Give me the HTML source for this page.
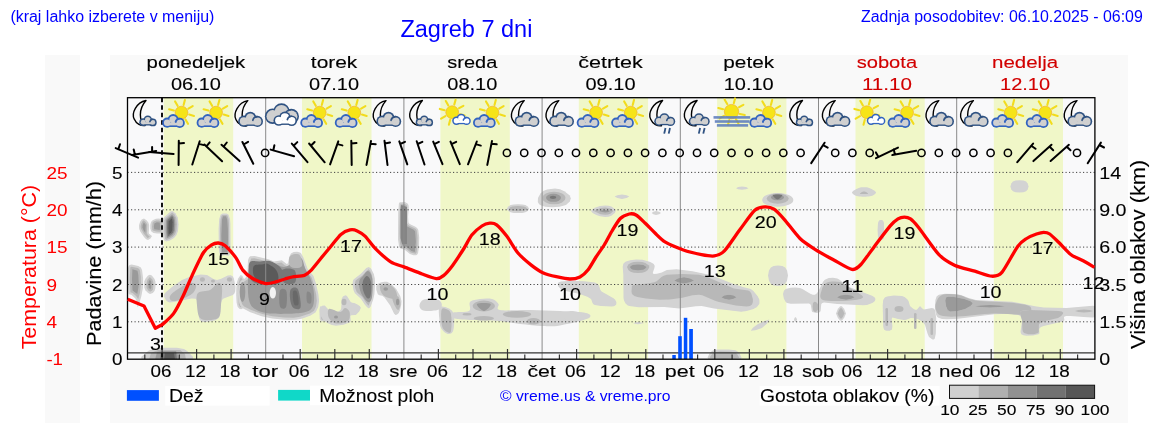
<!DOCTYPE html><html><head><meta charset="utf-8"><style>html,body{margin:0;padding:0;width:1152px;height:443px;overflow:hidden;background:#fff}#w{position:absolute;left:0;top:0;width:1152px;height:443px;will-change:transform}</style></head><body><div id="w"><svg width="1152" height="443" viewBox="0 0 1152 443" style="position:absolute;left:0;top:0" font-family='"Liberation Sans", sans-serif'>
<defs><filter id="bl" x="-20%" y="-20%" width="140%" height="140%"><feGaussianBlur stdDeviation="0.3"/></filter><clipPath id="pc"><rect x="127.5" y="97.7" width="967.4" height="261.5"/></clipPath></defs>
<rect width="1152" height="443" fill="#fff"/>
<rect x="45" y="55" width="35" height="368" fill="#f9f9f9"/>
<rect x="110" y="55" width="1018" height="368" fill="#f9f9f9"/>
<rect x="127.5" y="97.7" width="967.4" height="261.5" fill="#f9f9fa"/>
<rect x="163.7" y="97.7" width="69.5" height="261.5" fill="#f0f7c8"/>
<rect x="302.0" y="97.7" width="69.5" height="261.5" fill="#f0f7c8"/>
<rect x="440.4" y="97.7" width="69.4" height="261.5" fill="#f0f7c8"/>
<rect x="578.8" y="97.7" width="69.3" height="261.5" fill="#f0f7c8"/>
<rect x="717.1" y="97.7" width="69.3" height="261.5" fill="#f0f7c8"/>
<rect x="855.5" y="97.7" width="69.2" height="261.5" fill="#f0f7c8"/>
<rect x="993.8" y="97.7" width="69.2" height="261.5" fill="#f0f7c8"/>
<g filter="url(#bl)" clip-path="url(#pc)"><path d="M144.0,218.5 L141.7,219.5 L140.0,222.0 L139.0,225.2 L139.2,229.0 L140.4,231.8 L144.0,237.0 L146.1,239.2 L148.0,240.0 L150.5,238.4 L152.0,236.0 L149.1,233.8 L148.7,233.0 L149.2,225.4 L148.5,222.8 L146.8,220.5 L144.0,218.5Z" fill="#d3d3d3"/><path d="M143.7,220.3 L142.5,221.3 L141.3,223.6 L140.7,226.5 L140.9,228.5 L143.7,233.6 L147.7,238.2 L149.8,236.4 L147.8,235.1 L146.9,233.3 L147.3,224.5 L145.5,221.7 L143.7,220.3Z" fill="#b8b8b8"/><path d="M143.8,222.3 L142.6,224.9 L142.4,227.4 L143.4,230.1 L145.3,233.1 L145.8,225.6 L145.5,224.4 L143.8,222.3Z" fill="#9a9a9a"/><path d="M151.0,222.0 L150.3,224.8 L150.3,228.3 L151.0,231.0 L151.7,231.8 L153.6,232.9 L157.0,233.5 L160.4,233.6 L162.3,232.8 L163.4,230.6 L163.8,226.6 L163.4,222.5 L162.3,220.0 L159.2,218.6 L155.9,218.7 L152.6,220.2 L151.0,222.0Z" fill="#d3d3d3"/><path d="M152.6,222.8 L152.1,226.6 L152.3,229.4 L152.9,230.5 L156.2,231.6 L159.2,231.8 L161.1,231.5 L161.7,230.2 L161.9,226.6 L161.6,222.8 L161.0,221.3 L158.9,220.4 L156.3,220.4 L153.7,221.6 L152.6,222.8Z" fill="#b8b8b8"/><path d="M154.2,229.2 L159.8,230.0 L160.1,226.6 L159.7,222.5 L156.7,222.2 L154.4,223.4 L153.9,226.6 L154.2,229.2Z" fill="#9a9a9a"/><path d="M172.4,211.0 L170.5,211.5 L164.7,216.8 L163.4,218.5 L163.0,220.0 L162.6,228.0 L163.0,236.0 L164.0,240.0 L166.0,241.5 L169.9,240.5 L174.0,238.0 L176.5,235.1 L178.0,231.0 L178.5,224.3 L177.8,217.6 L175.4,213.2 L172.4,211.0Z" fill="#d3d3d3"/><path d="M172.1,212.6 L165.7,217.9 L164.6,220.3 L164.2,225.0 L164.4,233.7 L165.1,238.5 L166.2,239.9 L169.3,239.1 L173.0,236.8 L175.1,234.3 L176.4,230.7 L176.9,224.3 L176.3,218.0 L174.2,214.3 L172.1,212.6Z" fill="#b8b8b8"/><path d="M166.8,238.3 L169.9,237.0 L172.6,234.9 L174.2,232.6 L174.9,230.4 L175.3,224.3 L175.0,220.0 L174.3,217.3 L172.1,214.4 L166.8,219.1 L166.1,220.6 L165.8,230.9 L166.8,238.3Z" fill="#9a9a9a"/><path d="M167.6,236.7 L171.8,234.0 L173.1,232.2 L173.7,230.2 L174.1,224.3 L173.8,220.2 L173.2,217.8 L172.1,216.1 L167.6,220.0 L167.3,220.9 L167.0,227.9 L167.6,236.7Z" fill="#777777"/><path d="M168.7,234.6 L171.2,232.6 L172.3,229.9 L172.6,222.2 L171.9,218.3 L168.7,221.2 L168.4,227.9 L168.7,234.6Z" fill="#5a5a5a"/><path d="M226.6,213.5 L222.6,213.5 L220.6,214.7 L219.2,219.0 L218.6,229.1 L218.8,247.9 L219.2,252.0 L219.8,254.3 L220.7,255.4 L221.8,255.8 L225.0,255.0 L228.0,255.8 L229.0,255.4 L229.7,254.3 L230.6,247.9 L230.4,223.3 L230.0,219.0 L228.6,214.7 L226.6,213.5Z" fill="#d3d3d3"/><path d="M226.3,214.9 L222.9,214.9 L221.7,215.6 L220.6,219.2 L220.0,229.1 L220.2,247.8 L220.6,251.7 L221.5,254.2 L225.0,253.6 L227.9,254.3 L228.9,251.8 L229.2,247.8 L229.0,223.4 L228.6,219.2 L227.4,215.6 L226.3,214.9Z" fill="#b8b8b8"/><path d="M222.3,252.8 L225.0,252.2 L227.3,252.7 L227.5,251.6 L228.0,242.2 L227.9,229.2 L227.2,219.4 L226.1,216.3 L223.0,216.3 L222.0,219.4 L221.3,235.7 L221.6,247.7 L222.3,252.8Z" fill="#9a9a9a"/><path d="M128.2,267.1 L127.7,270.1 L127.5,279.3 L128.5,293.3 L128.9,294.2 L131.3,294.8 L135.4,298.5 L136.4,300.8 L137.6,307.4 L138.7,305.3 L141.3,296.6 L142.9,288.1 L143.1,278.6 L142.1,270.2 L140.9,267.6 L138.2,265.9 L131.8,264.6 L130.3,264.7 L129.1,265.5 L128.2,267.1Z" fill="#d3d3d3"/><path d="M130.3,267.8 L129.7,279.2 L130.5,292.2 L132.6,293.0 L136.1,296.0 L138.2,299.2 L139.9,292.9 L141.0,284.3 L140.8,276.5 L140.0,270.8 L139.2,269.0 L137.6,268.0 L131.7,266.8 L130.7,267.0 L130.3,267.8Z" fill="#b8b8b8"/><path d="M132.6,290.4 L137.3,294.0 L138.4,287.6 L138.7,282.5 L138.3,274.7 L137.5,270.7 L132.4,269.3 L132.0,279.2 L132.6,290.4Z" fill="#9a9a9a"/><path d="M149.9,274.8 L148.0,275.6 L145.4,278.8 L144.4,281.3 L144.2,284.5 L144.4,287.7 L145.4,290.2 L148.1,293.1 L150.0,294.0 L152.8,292.9 L154.5,291.1 L155.3,288.6 L155.6,285.1 L155.4,281.5 L154.4,278.7 L151.8,275.6 L149.9,274.8Z" fill="#d3d3d3"/><path d="M149.9,277.1 L147.3,279.9 L146.4,284.5 L146.6,287.2 L147.3,289.1 L148.6,290.7 L150.2,291.8 L152.1,290.6 L152.9,289.2 L153.4,285.1 L153.2,281.9 L152.5,279.8 L149.9,277.1Z" fill="#b8b8b8"/><path d="M149.9,279.6 L148.8,281.4 L148.4,284.5 L148.7,287.5 L150.3,289.5 L151.2,287.8 L151.4,283.5 L151.0,281.3 L149.9,279.6Z" fill="#9a9a9a"/><path d="M166.0,292.0 L164.2,294.3 L164.2,296.7 L166.1,300.5 L168.2,302.1 L169.7,302.5 L174.0,302.1 L191.6,298.6 L195.5,298.8 L197.0,300.0 L197.9,302.3 L198.9,317.1 L199.6,319.6 L200.8,321.0 L202.4,321.8 L205.9,322.0 L214.9,320.4 L218.2,318.5 L219.4,317.0 L220.1,314.8 L220.7,305.4 L221.1,302.4 L222.0,300.0 L223.6,298.4 L232.9,294.9 L234.4,293.5 L235.2,291.6 L235.5,286.7 L233.9,278.6 L232.7,276.3 L230.7,275.2 L227.7,275.4 L221.2,278.7 L217.0,280.0 L213.5,278.9 L207.0,275.0 L200.7,274.4 L189.9,276.8 L182.0,280.0 L173.2,286.0 L166.0,292.0Z" fill="#d3d3d3"/><path d="M170.0,296.0 C171.0,294.0 174.7,291.2 178.0,289.0 C181.3,286.8 187.0,283.7 190.0,283.0 C193.0,282.3 195.5,283.3 196.0,285.0 C196.5,286.7 195.3,290.7 193.0,293.0 C190.7,295.3 185.5,297.7 182.0,299.0 C178.5,300.3 174.0,301.5 172.0,301.0 C170.0,300.5 169.0,298.0 170.0,296.0Z" fill="#b8b8b8"/><path d="M198.0,293.0 C200.2,290.5 206.7,291.7 210.0,290.0 C213.3,288.3 216.0,283.5 218.0,283.0 C220.0,282.5 221.5,283.3 222.0,287.0 C222.5,290.7 221.5,300.0 221.0,305.0 C220.5,310.0 220.8,314.5 219.0,317.0 C217.2,319.5 213.2,319.8 210.0,320.0 C206.8,320.2 202.2,320.5 200.0,318.0 C197.8,315.5 197.3,309.2 197.0,305.0 C196.7,300.8 195.8,295.5 198.0,293.0Z" fill="#b8b8b8"/><ellipse cx="202.4" cy="279.5" rx="2.6" ry="2.2" fill="#b8b8b8"/><ellipse cx="229.5" cy="279.5" rx="2.6" ry="2.2" fill="#b8b8b8"/><ellipse cx="213.0" cy="281.0" rx="2.0" ry="1.5" fill="#b8b8b8"/><path d="M240.7,275.0 L238.3,278.3 L236.9,282.6 L236.3,287.9 L236.2,295.4 L236.6,302.5 L237.6,306.7 L239.3,308.8 L241.2,309.3 L242.7,308.4 L244.7,304.1 L245.5,300.0 L245.7,290.9 L245.3,284.5 L244.5,280.0 L242.3,275.7 L240.7,275.0Z" fill="#d3d3d3"/><path d="M241.1,277.1 L239.9,279.0 L238.7,283.0 L238.0,291.5 L238.8,304.6 L239.8,306.8 L241.0,307.5 L242.4,305.2 L243.4,301.8 L244.0,294.2 L243.2,282.3 L242.2,279.0 L241.1,277.1Z" fill="#b8b8b8"/><path d="M241.1,281.1 L240.1,285.5 L239.8,291.6 L239.9,298.9 L240.7,304.7 L241.9,299.6 L242.2,294.2 L241.8,284.9 L241.1,281.1Z" fill="#9a9a9a"/><path d="M144.0,360.0 L157.5,360.9 L184.5,360.6 L190.0,360.0 L192.5,359.1 L193.1,357.8 L192.4,356.2 L187.2,351.1 L184.0,348.9 L176.9,347.7 L160.3,347.7 L152.4,348.9 L148.1,351.1 L142.0,356.2 L141.1,357.8 L141.6,359.1 L144.0,360.0Z" fill="#d3d3d3"/><path d="M149,360 L151,353 L158,350 L180,350 L185,354 L186,360Z" fill="#b8b8b8"/><path d="M155,360 L157,352 L162,351 L176,351 L178,355 L179,360Z" fill="#9a9a9a"/><path d="M160,360 L161,352 L176,352 L177,360Z" fill="#777777"/><path d="M164,360 L165,353 L174,353 L175,360Z" fill="#5a5a5a"/><path d="M248.0,260.3 L247.4,273.9 L246.9,276.1 L244.9,278.6 L241.1,280.6 L240.2,281.7 L238.9,284.6 L238.2,288.1 L237.9,294.0 L238.7,301.3 L240.2,305.4 L242.7,308.2 L250.3,312.2 L261.7,316.2 L272.0,318.4 L287.6,320.0 L296.2,319.8 L302.5,318.4 L310.7,315.6 L315.7,312.2 L318.2,307.0 L319.1,300.9 L318.4,294.2 L315.9,283.3 L313.5,276.1 L307.8,269.3 L303.3,257.3 L301.0,253.2 L300.0,252.4 L297.1,251.8 L293.7,252.1 L290.9,253.5 L289.4,256.7 L288.1,262.7 L287.5,263.7 L286.7,263.9 L281.9,260.3 L274.0,261.4 L268.4,259.2 L254.7,255.9 L250.1,256.3 L248.9,257.7 L248.0,260.3Z" fill="#d3d3d3"/><path d="M250.3,260.8 L249.7,274.1 L249.1,276.8 L247.6,279.3 L242.1,283.0 L240.4,288.4 L240.2,294.0 L240.9,300.8 L242.2,304.2 L244.1,306.4 L251.2,310.1 L262.4,314.0 L272.4,316.2 L284.1,317.5 L293.6,317.7 L299.9,316.7 L309.8,313.5 L314.0,310.7 L316.0,306.4 L316.8,300.8 L316.2,294.6 L313.7,283.9 L311.5,277.2 L305.7,270.3 L301.1,258.1 L299.4,254.8 L298.2,254.2 L295.6,254.1 L292.6,255.2 L290.2,263.7 L288.8,265.6 L287.0,266.2 L284.6,265.3 L281.4,262.6 L273.6,263.7 L267.8,261.4 L254.4,258.2 L251.2,258.4 L250.3,260.8Z" fill="#b8b8b8"/><path d="M251.0,265.0 C254.7,262.2 264.5,262.7 270.0,263.0 C275.5,263.3 280.3,267.0 284.0,267.0 C287.7,267.0 290.0,264.6 292.0,263.0 C294.0,261.4 294.3,258.2 296.0,257.5 C297.7,256.8 300.5,257.2 302.0,259.0 C303.5,260.8 303.5,264.5 305.0,268.0 C306.5,271.5 309.5,275.7 311.0,280.0 C312.5,284.3 313.8,289.3 314.0,294.0 C314.2,298.7 314.3,304.8 312.0,308.0 C309.7,311.2 307.0,312.1 300.0,313.0 C293.0,313.9 277.5,314.2 270.0,313.5 C262.5,312.8 258.5,311.2 255.0,309.0 C251.5,306.8 250.2,304.8 249.0,300.0 C247.8,295.2 247.7,285.8 248.0,280.0 C248.3,274.2 247.3,267.8 251.0,265.0Z" fill="#9a9a9a"/><ellipse cx="242.5" cy="292.0" rx="2.8" ry="10.0" fill="#9a9a9a"/><path d="M250.0,262.0 C251.8,260.2 256.7,261.7 260.0,261.5 C263.3,261.3 266.7,260.1 270.0,261.0 C273.3,261.9 277.7,264.5 280.0,267.0 C282.3,269.5 284.3,273.2 284.0,276.0 C283.7,278.8 281.7,282.6 278.0,284.0 C274.3,285.4 266.3,285.0 262.0,284.5 C257.7,284.0 254.2,283.1 252.0,281.0 C249.8,278.9 249.3,275.2 249.0,272.0 C248.7,268.8 248.2,263.8 250.0,262.0Z" fill="#777777"/><path d="M253.8,266.0 C255.1,264.1 259.6,264.8 262.0,264.5 C264.4,264.2 265.5,262.9 268.0,264.0 C270.5,265.1 275.3,268.1 276.8,271.0 C278.3,273.9 279.5,279.5 277.0,281.3 C274.5,283.1 265.8,282.9 262.0,282.0 C258.2,281.1 255.4,278.7 254.0,276.0 C252.6,273.3 252.5,267.9 253.8,266.0Z" fill="#5a5a5a"/><path d="M291.0,289.0 C292.3,287.6 296.4,286.4 298.0,289.5 C299.6,292.6 301.3,304.5 300.5,307.5 C299.7,310.5 294.8,309.1 293.0,307.5 C291.2,305.9 290.3,301.1 290.0,298.0 C289.7,294.9 289.7,290.4 291.0,289.0Z" fill="#777777"/><path d="M293.0,292.0 C293.5,290.0 296.1,290.0 297.0,292.0 C297.9,294.0 299.0,302.0 298.5,304.0 C298.0,306.0 294.9,306.0 294.0,304.0 C293.1,302.0 292.5,294.0 293.0,292.0Z" fill="#686868"/><path d="M282.0,270.0 C283.7,267.9 292.2,267.9 294.4,270.0 C296.6,272.1 296.7,280.4 295.0,282.5 C293.3,284.6 286.2,284.6 284.0,282.5 C281.8,280.4 280.3,272.1 282.0,270.0Z" fill="#777777"/><path d="M289.5,257.0 C290.5,255.0 294.1,253.8 296.0,254.0 C297.9,254.2 300.0,256.0 301.0,258.0 C302.0,260.0 302.8,264.3 302.0,266.0 C301.2,267.7 298.0,268.0 296.0,268.0 C294.0,268.0 291.1,267.8 290.0,266.0 C288.9,264.2 288.5,259.0 289.5,257.0Z" fill="#b8b8b8"/><path d="M280.0,290.6 C281.1,288.0 285.3,288.3 286.3,291.0 C287.3,293.7 287.1,304.4 286.0,307.0 C284.9,309.6 281.0,309.2 280.0,306.5 C279.0,303.8 278.9,293.2 280.0,290.6Z" fill="#838383"/><path d="M307.0,292.0 C307.7,290.7 310.3,292.2 311.0,294.0 C311.7,295.8 311.7,301.7 311.0,303.0 C310.3,304.3 307.7,303.8 307.0,302.0 C306.3,300.2 306.3,293.3 307.0,292.0Z" fill="#888888"/><ellipse cx="272.8" cy="292.8" rx="3.2" ry="5.8" fill="#f2f2f2"/><path d="M320.0,306.8 L319.4,310.5 L319.7,318.4 L320.6,320.9 L322.5,321.4 L324.4,320.7 L325.3,318.8 L325.3,311.4 L325.0,310.0 L323.5,307.8 L321.5,306.4 L320.6,306.3 L320.0,306.8Z" fill="#d3d3d3"/><path d="M321.3,308.1 L321.0,313.2 L321.2,318.1 L321.7,319.7 L322.4,319.8 L323.4,319.5 L323.8,318.5 L324.0,313.3 L323.5,310.6 L321.3,308.1Z" fill="#b8b8b8"/><path d="M320.3,307.7 L319.8,309.6 L320.0,313.3 L321.2,316.8 L322.6,319.1 L324.8,321.2 L327.9,323.2 L331.8,324.9 L336.0,325.7 L343.4,324.8 L349.6,322.4 L350.5,321.4 L350.7,320.2 L350.4,316.4 L350.7,315.6 L351.4,315.2 L355.5,314.9 L356.4,314.5 L359.4,311.3 L360.9,307.7 L359.7,305.9 L357.4,304.4 L354.4,302.9 L352.2,302.7 L350.7,302.0 L347.0,295.9 L345.4,295.2 L342.9,296.6 L341.7,298.7 L341.2,308.6 L340.6,310.0 L338.1,311.7 L334.7,312.5 L331.5,312.2 L329.0,310.3 L324.8,305.4 L322.1,305.7 L320.3,307.7Z" fill="#d3d3d3"/><path d="M329.0,309.0 C330.8,308.0 337.3,312.2 340.0,312.0 C342.7,311.8 343.4,308.0 345.0,308.0 C346.6,308.0 349.1,309.8 349.6,312.0 C350.1,314.2 350.3,319.1 348.0,321.0 C345.7,322.9 339.2,324.0 336.0,323.5 C332.8,323.0 330.2,320.4 329.0,318.0 C327.8,315.6 327.2,310.0 329.0,309.0Z" fill="#b8b8b8"/><ellipse cx="344.0" cy="302.0" rx="2.5" ry="3.2" fill="#b8b8b8"/><ellipse cx="336.0" cy="317.0" rx="2.0" ry="1.5" fill="#9a9a9a"/><path d="M368.8,267.0 L366.3,268.1 L360.9,273.8 L353.8,279.2 L353.0,280.6 L352.5,284.2 L353.5,290.2 L354.9,293.3 L360.9,298.7 L364.7,304.5 L366.9,307.1 L368.4,308.3 L369.2,308.3 L370.7,306.4 L373.2,299.6 L374.4,294.2 L375.0,284.9 L374.8,278.6 L373.8,273.9 L371.0,268.5 L368.8,267.0Z" fill="#d3d3d3"/><path d="M368.5,269.3 L362.4,275.4 L355.6,280.5 L354.7,284.2 L355.1,287.8 L356.7,292.0 L362.5,297.2 L366.4,303.2 L368.6,305.7 L370.3,301.5 L371.8,296.4 L372.8,284.9 L372.6,278.9 L371.7,274.5 L370.2,271.1 L368.5,269.3Z" fill="#b8b8b8"/><path d="M368.0,271.0 C369.5,271.3 371.4,273.7 372.1,278.0 C372.8,282.3 372.7,293.0 372.0,297.0 C371.3,301.0 369.8,302.7 368.0,302.0 C366.2,301.3 362.5,296.3 361.0,293.0 C359.5,289.7 358.7,284.8 359.0,282.0 C359.3,279.2 361.5,277.8 363.0,276.0 C364.5,274.2 366.5,270.7 368.0,271.0Z" fill="#9a9a9a"/><path d="M367.0,276.0 C368.3,276.2 370.4,278.7 371.0,282.0 C371.6,285.3 371.2,293.3 370.5,296.0 C369.8,298.7 368.2,299.0 367.0,298.0 C365.8,297.0 363.7,292.8 363.0,290.0 C362.3,287.2 362.3,283.3 363.0,281.0 C363.7,278.7 365.7,275.8 367.0,276.0Z" fill="#777777"/><path d="M377.6,284.0 L376.2,286.3 L376.3,289.7 L377.8,294.2 L379.3,295.2 L382.3,295.7 L384.5,297.5 L390.2,305.4 L394.0,313.6 L395.5,314.9 L397.1,314.6 L398.6,313.2 L399.8,310.8 L401.2,304.9 L401.5,301.0 L400.3,296.2 L396.4,289.3 L391.5,284.2 L387.0,281.8 L384.2,281.8 L380.7,282.6 L377.6,284.0Z" fill="#d3d3d3"/><path d="M380.0,286.0 C380.7,284.2 384.7,283.7 387.0,284.0 C389.3,284.3 392.3,286.0 394.0,288.0 C395.7,290.0 397.3,294.2 397.0,296.0 C396.7,297.8 394.3,298.9 392.0,298.7 C389.7,298.5 385.0,297.1 383.0,295.0 C381.0,292.9 379.3,287.8 380.0,286.0Z" fill="#b8b8b8"/><path d="M392.5,297.0 C393.2,295.7 396.7,295.2 398.0,296.4 C399.3,297.6 400.4,301.7 400.4,304.0 C400.4,306.3 399.1,310.0 398.0,310.0 C396.9,310.0 394.9,306.2 394.0,304.0 C393.1,301.8 391.8,298.3 392.5,297.0Z" fill="#b8b8b8"/><ellipse cx="385.7" cy="289.0" rx="2.3" ry="1.7" fill="#9a9a9a"/><ellipse cx="397.6" cy="302.0" rx="1.6" ry="3.3" fill="#9a9a9a"/><path d="M404.9,202.0 L399.7,202.2 L398.9,203.4 L398.2,212.6 L398.0,239.4 L399.1,246.8 L400.1,248.3 L405.0,250.0 L409.9,254.1 L413.5,255.2 L416.2,255.3 L417.3,254.6 L418.1,253.0 L419.0,246.4 L419.2,237.3 L418.3,230.0 L417.1,228.0 L415.4,226.7 L409.7,224.1 L408.5,222.4 L408.1,216.8 L408.8,207.2 L408.5,205.0 L407.6,203.6 L404.9,202.0Z" fill="#d3d3d3"/><path d="M400.6,203.8 L399.9,212.7 L399.5,233.1 L400.1,243.7 L400.7,246.0 L401.9,247.4 L405.9,248.5 L410.7,252.6 L415.6,253.7 L416.5,252.4 L417.4,246.2 L417.5,237.4 L416.7,230.6 L415.8,229.1 L414.6,228.2 L408.7,225.4 L407.0,223.2 L406.3,219.9 L407.1,207.3 L406.9,205.6 L406.3,204.7 L404.5,203.7 L400.6,203.8Z" fill="#b8b8b8"/><path d="M402.1,205.3 L401.2,233.1 L401.4,239.2 L402.3,245.3 L406.8,247.1 L411.4,251.0 L414.8,252.0 L415.9,241.8 L415.1,231.2 L413.7,229.7 L407.6,226.8 L405.5,224.1 L404.6,219.9 L405.2,206.2 L404.0,205.3 L402.1,205.3Z" fill="#9a9a9a"/><path d="M401,205 L407,207 L407,244 L402,244 L400.5,238 L400.5,210Z" fill="#858585"/><path d="M419.5,305.0 C419.8,303.2 421.2,300.5 424.0,299.5 C426.8,298.5 433.1,298.4 436.0,299.0 C438.9,299.6 440.8,301.3 441.5,303.0 C442.2,304.7 441.9,307.7 440.0,309.0 C438.1,310.3 433.0,310.8 430.0,311.0 C427.0,311.2 423.8,311.0 422.0,310.0 C420.2,309.0 419.2,306.8 419.5,305.0Z" fill="#d3d3d3"/><path d="M439.3,308.0 C440.2,306.2 442.6,306.2 445.0,307.0 C447.4,307.8 452.0,309.2 453.4,313.0 C454.8,316.8 454.3,326.5 453.4,330.0 C452.5,333.5 450.1,334.3 448.0,334.0 C445.9,333.7 442.4,330.7 441.0,328.0 C439.6,325.3 439.6,321.3 439.3,318.0 C439.0,314.7 438.4,309.8 439.3,308.0Z" fill="#d3d3d3"/><path d="M441.5,310.0 C442.2,307.2 444.4,308.3 446.0,309.0 C447.6,309.7 450.2,310.3 451.0,314.0 C451.8,317.7 451.7,328.0 451.0,331.0 C450.3,334.0 448.5,332.8 447.0,332.0 C445.5,331.2 442.9,329.7 442.0,326.0 C441.1,322.3 440.8,312.8 441.5,310.0Z" fill="#b8b8b8"/><path d="M453.4,312.6 C456.0,311.4 466.2,312.7 469.0,310.9 C471.8,309.1 468.2,304.0 470.0,302.0 C471.8,300.0 476.3,299.5 480.0,299.0 C483.7,298.5 488.9,298.2 492.0,299.0 C495.1,299.8 497.2,302.2 498.5,304.0 C499.8,305.8 494.8,309.0 500.0,310.0 C505.2,311.0 520.0,309.8 530.0,310.0 C540.0,310.2 550.7,310.5 560.0,311.0 C569.3,311.5 581.3,311.8 586.0,313.0 C590.7,314.2 592.3,316.4 588.0,318.5 C583.7,320.6 567.6,324.1 560.0,325.4 C552.4,326.6 549.2,326.2 542.5,326.0 C535.8,325.8 527.3,324.8 520.0,324.0 C512.7,323.2 506.8,321.7 498.5,321.0 C490.2,320.3 477.5,320.5 470.0,320.0 C462.5,319.5 456.2,319.2 453.4,318.0 C450.6,316.8 450.8,313.8 453.4,312.6Z" fill="#d3d3d3"/><ellipse cx="483.8" cy="306.0" rx="11.2" ry="5.4" fill="#b8b8b8"/><path d="M477.0,304.0 C478.1,302.8 489.4,302.8 490.6,304.0 C491.8,305.2 486.3,311.0 484.0,311.0 C481.7,311.0 475.9,305.2 477.0,304.0Z" fill="#9a9a9a"/><ellipse cx="483.8" cy="318.3" rx="10.2" ry="2.3" fill="#b8b8b8"/><ellipse cx="517.0" cy="314.3" rx="14.2" ry="3.4" fill="#b8b8b8"/><ellipse cx="533.5" cy="321.2" rx="6.8" ry="3.2" fill="#b8b8b8"/><ellipse cx="467.0" cy="314.2" rx="4.5" ry="1.2" fill="#b8b8b8"/><path d="M506.7,208.7 L508.3,210.9 L510.6,212.2 L513.7,212.9 L518.0,213.1 L522.3,212.9 L525.4,212.2 L527.7,210.9 L529.2,208.7 L527.7,206.5 L525.4,205.1 L522.3,204.4 L518.0,204.2 L513.7,204.4 L510.6,205.1 L508.3,206.5 L506.7,208.7Z" fill="#d3d3d3"/><path d="M508.6,208.7 L510.2,210.0 L512.4,210.8 L518.0,211.3 L523.6,210.8 L525.7,210.0 L527.3,208.7 L525.7,207.3 L523.6,206.5 L518.0,206.0 L512.4,206.5 L510.2,207.3 L508.6,208.7Z" fill="#b8b8b8"/><path d="M538.0,198.0 L537.8,201.9 L539.0,204.1 L540.0,205.0 L545.2,206.7 L552.0,207.2 L559.5,206.7 L566.0,205.0 L569.8,201.4 L570.8,198.4 L569.8,195.6 L564.4,191.2 L560.0,189.2 L555.0,188.6 L547.1,189.4 L543.3,190.9 L540.4,193.6 L538.0,198.0Z" fill="#d3d3d3"/><ellipse cx="554.0" cy="198.0" rx="11.5" ry="6.3" fill="#b8b8b8"/><ellipse cx="553.5" cy="197.8" rx="7.5" ry="4.0" fill="#9a9a9a"/><ellipse cx="553.0" cy="197.3" rx="3.2" ry="1.6" fill="#777777"/><path d="M614.6,196.6 L617.4,198.0 L622.0,198.9 L626.6,198.0 L629.3,196.6 L626.6,195.2 L622.0,194.4 L617.4,195.2 L614.6,196.6Z" fill="#d3d3d3"/><path d="M591.0,211.0 L592.6,212.9 L596.3,214.9 L600.0,216.3 L605.2,217.0 L608.6,216.7 L611.3,215.7 L614.8,212.9 L615.7,211.0 L614.8,209.1 L611.3,206.5 L608.6,205.7 L605.2,205.4 L600.0,206.0 L596.3,207.3 L592.6,209.1 L591.0,211.0Z" fill="#d3d3d3"/><path d="M593.8,211.0 L600.6,214.2 L605.2,214.8 L608.1,214.5 L610.3,213.8 L613.4,211.0 L610.4,208.5 L605.2,207.6 L600.5,208.1 L593.8,211.0Z" fill="#b8b8b8"/><path d="M599.1,211.1 L602.4,212.1 L605.2,212.4 L608.5,211.9 L610.0,211.1 L607.7,210.2 L605.2,210.0 L602.4,210.2 L599.1,211.1Z" fill="#9a9a9a"/><path d="M651.7,213.0 L653.3,214.2 L656.0,215.0 L659.1,214.2 L661.0,213.0 L659.1,211.8 L656.0,211.0 L653.3,211.8 L651.7,213.0Z" fill="#d3d3d3"/><path d="M561.0,281.4 L558.8,282.2 L557.8,283.5 L557.8,285.0 L558.4,286.6 L561.0,289.3 L565.9,291.0 L579.0,293.8 L587.3,296.7 L590.3,298.4 L591.3,299.4 L592.5,303.1 L593.3,304.2 L594.8,305.0 L600.8,306.1 L611.7,306.6 L614.0,306.3 L616.2,304.7 L616.4,302.1 L615.0,299.5 L613.5,298.3 L601.6,291.6 L600.4,290.1 L598.8,285.1 L597.4,283.7 L594.8,282.6 L584.3,281.3 L570.8,280.8 L561.0,281.4Z" fill="#d3d3d3"/><path d="M560.0,315.8 L560.6,316.7 L564.8,318.9 L570.5,320.5 L573.0,320.8 L581.9,318.9 L586.6,316.7 L587.3,315.8 L586.6,314.9 L581.9,312.7 L573.0,310.9 L570.5,311.1 L564.8,312.7 L560.6,314.9 L560.0,315.8Z" fill="#d3d3d3"/><path d="M633.0,323.0 L634.8,323.8 L638.0,324.3 L644.4,323.0 L638.0,322.0 L633.0,323.0Z" fill="#d3d3d3"/><path d="M623.3,263.7 L622.7,266.8 L623.3,274.8 L623.5,297.9 L623.9,300.3 L625.5,303.6 L627.8,305.5 L629.4,306.1 L638.5,307.3 L664.3,307.0 L679.2,308.4 L695.9,306.2 L701.7,306.1 L714.0,308.4 L741.2,311.7 L746.6,311.1 L753.5,308.9 L757.0,307.0 L759.4,303.7 L759.4,299.7 L757.7,296.3 L753.4,291.1 L750.8,289.0 L743.8,287.3 L731.6,283.2 L711.6,275.2 L692.5,271.2 L676.6,269.3 L666.8,269.9 L661.8,272.4 L657.0,273.7 L653.9,274.0 L653.0,273.6 L652.8,272.7 L654.4,267.9 L654.7,266.2 L654.4,264.9 L653.4,263.8 L650.3,261.9 L642.5,259.7 L636.0,259.5 L630.2,260.3 L625.4,261.8 L623.3,263.7Z" fill="#d3d3d3"/><path d="M627.0,267.0 L628.4,270.0 L630.6,271.8 L633.7,272.8 L638.0,273.1 L642.3,272.8 L645.4,271.8 L647.8,270.0 L649.4,267.0 L648.6,265.2 L645.4,262.9 L642.3,262.1 L638.0,261.8 L633.7,262.1 L630.6,262.9 L628.4,264.4 L627.0,267.0Z" fill="#d3d3d3"/><path d="M627.0,267.0 L628.4,270.0 L630.6,271.8 L633.7,272.8 L638.0,273.1 L642.3,272.8 L645.4,271.8 L647.8,270.0 L649.4,267.0 L648.6,265.2 L645.4,262.9 L642.3,262.1 L638.0,261.8 L633.7,262.1 L630.6,262.9 L628.4,264.4 L627.0,267.0Z" fill="#b8b8b8"/><path d="M629.9,267.1 L631.2,268.8 L632.9,269.7 L638.0,270.3 L643.1,269.7 L645.0,268.7 L646.5,267.1 L643.3,265.1 L638.0,264.6 L632.7,265.1 L631.0,265.9 L629.9,267.1Z" fill="#9a9a9a"/><path d="M631.9,285.7 L631.5,291.6 L631.8,293.2 L632.7,294.8 L634.5,296.0 L637.4,297.0 L645.9,298.5 L659.4,299.7 L669.6,299.5 L682.5,297.8 L692.4,295.2 L699.0,294.7 L702.2,295.3 L715.0,300.8 L719.0,302.0 L735.8,305.4 L746.5,306.4 L750.0,306.0 L752.0,304.5 L752.9,302.1 L752.9,299.2 L751.3,293.5 L750.0,291.5 L748.2,290.4 L733.9,288.5 L706.8,276.8 L699.0,274.8 L682.4,273.9 L666.8,274.8 L663.7,275.7 L661.5,276.9 L656.7,281.3 L654.4,282.3 L647.7,283.5 L634.5,284.8 L631.9,285.7Z" fill="#d3d3d3"/><path d="M631.9,285.7 L631.5,291.6 L631.8,293.2 L632.7,294.8 L634.5,296.0 L637.4,297.0 L645.9,298.5 L659.4,299.7 L669.6,299.5 L682.5,297.8 L692.4,295.2 L699.0,294.7 L702.2,295.3 L715.0,300.8 L719.0,302.0 L735.8,305.4 L746.5,306.4 L750.0,306.0 L752.0,304.5 L752.9,302.1 L752.9,299.2 L751.3,293.5 L750.0,291.5 L748.2,290.4 L733.9,288.5 L706.8,276.8 L699.0,274.8 L682.4,273.9 L666.8,274.8 L663.7,275.7 L661.5,276.9 L656.7,281.3 L654.4,282.3 L647.7,283.5 L634.5,284.8 L631.9,285.7Z" fill="#b8b8b8"/><path d="M674.3,280.4 L677.9,282.3 L684.0,283.5 L690.2,282.3 L694.0,280.4 L690.2,278.5 L684.0,277.3 L677.9,278.5 L674.3,280.4Z" fill="#d3d3d3"/><path d="M674.3,280.4 L677.9,282.3 L684.0,283.5 L690.2,282.3 L694.0,280.4 L690.2,278.5 L684.0,277.3 L677.9,278.5 L674.3,280.4Z" fill="#b8b8b8"/><path d="M674.3,280.4 L677.9,282.3 L684.0,283.5 L690.2,282.3 L694.0,280.4 L690.2,278.5 L684.0,277.3 L677.9,278.5 L674.3,280.4Z" fill="#9a9a9a"/><path d="M721.5,297.2 L724.3,298.8 L729.0,299.7 L733.6,298.8 L736.4,297.2 L733.6,295.6 L729.0,294.7 L724.3,295.6 L721.5,297.2Z" fill="#d3d3d3"/><path d="M721.5,297.2 L724.3,298.8 L729.0,299.7 L733.6,298.8 L736.4,297.2 L733.6,295.6 L729.0,294.7 L724.3,295.6 L721.5,297.2Z" fill="#b8b8b8"/><path d="M721.5,297.2 L724.3,298.8 L729.0,299.7 L733.6,298.8 L736.4,297.2 L733.6,295.6 L729.0,294.7 L724.3,295.6 L721.5,297.2Z" fill="#9a9a9a"/><path d="M768.0,275.4 L769.0,280.7 L770.8,283.8 L773.6,285.5 L778.0,286.0 L782.4,285.5 L785.2,283.8 L787.0,280.7 L788.0,275.4 L787.0,270.4 L785.2,267.5 L782.4,265.9 L778.0,265.4 L773.6,265.9 L770.8,267.5 L769.0,270.4 L768.0,275.4Z" fill="#d3d3d3"/><path d="M783.0,294.0 L783.9,298.8 L785.7,302.0 L787.0,303.0 L790.8,303.8 L808.8,303.5 L810.0,304.0 L810.8,305.0 L811.8,311.0 L812.4,312.0 L816.2,313.1 L819.0,312.6 L820.0,312.0 L820.6,310.9 L821.3,304.0 L822.4,303.0 L824.0,302.6 L837.3,304.0 L863.2,305.3 L867.0,305.0 L872.3,303.1 L874.2,301.8 L875.2,300.3 L875.4,298.7 L874.5,297.2 L872.1,295.7 L849.7,287.3 L846.9,285.7 L839.2,279.5 L837.3,278.6 L833.0,277.8 L828.8,278.0 L824.8,279.8 L823.1,281.7 L818.6,290.8 L816.9,293.3 L815.0,294.7 L812.8,294.8 L810.3,293.8 L802.4,289.0 L800.0,288.0 L795.2,287.4 L790.6,287.7 L785.7,289.1 L783.9,290.7 L783.0,294.0Z" fill="#d3d3d3"/><path d="M821.7,290.0 C822.4,287.1 824.0,283.8 827.0,282.5 C830.0,281.2 836.2,281.1 840.0,282.0 C843.8,282.9 846.2,285.5 850.0,288.0 C853.8,290.5 863.0,294.9 863.0,297.0 C863.0,299.1 856.7,300.0 850.0,300.5 C843.3,301.0 827.7,301.8 823.0,300.0 C818.3,298.2 821.0,292.9 821.7,290.0Z" fill="#b8b8b8"/><path d="M837.0,297.2 L840.4,298.8 L846.0,299.7 L851.4,298.8 L854.6,297.2 L851.4,295.6 L846.0,294.7 L840.4,295.6 L837.0,297.2Z" fill="#d3d3d3"/><path d="M837.0,297.2 L840.4,298.8 L846.0,299.7 L851.4,298.8 L854.6,297.2 L851.4,295.6 L846.0,294.7 L840.4,295.6 L837.0,297.2Z" fill="#b8b8b8"/><path d="M837.0,297.2 L840.4,298.8 L846.0,299.7 L851.4,298.8 L854.6,297.2 L851.4,295.6 L846.0,294.7 L840.4,295.6 L837.0,297.2Z" fill="#9a9a9a"/><path d="M813.0,303.0 L812.6,306.4 L813.0,310.0 L814.3,311.8 L816.0,312.0 L818.4,308.9 L818.8,306.1 L817.9,304.1 L816.0,302.0 L814.3,301.8 L813.0,303.0Z" fill="#d3d3d3"/><path d="M813.0,303.0 L812.6,306.4 L813.0,310.0 L814.3,311.8 L816.0,312.0 L818.4,308.9 L818.8,306.1 L817.9,304.1 L816.0,302.0 L814.3,301.8 L813.0,303.0Z" fill="#b8b8b8"/><path d="M836.0,313.4 L837.9,318.0 L840.1,320.4 L841.0,320.8 L841.9,320.4 L844.1,318.0 L846.0,313.4 L844.1,308.8 L841.9,306.4 L841.0,306.0 L840.1,306.4 L837.9,308.8 L836.0,313.4Z" fill="#d3d3d3"/><path d="M837.6,313.4 L839.2,317.1 L841.0,319.1 L842.8,317.1 L844.4,313.4 L842.8,309.7 L841.0,307.7 L839.2,309.7 L837.6,313.4Z" fill="#b8b8b8"/><path d="M750.7,330.7 L755.4,330.3 L762.0,328.0 L767.1,323.4 L769.3,319.6 L764.6,320.9 L758.0,324.0 L752.9,327.8 L750.7,330.7Z" fill="#d3d3d3"/><path d="M794.0,319.6 L794.5,321.1 L795.4,322.0 L796.4,321.1 L797.0,319.6 L796.4,318.0 L795.4,317.0 L794.5,318.0 L794.0,319.6Z" fill="#d3d3d3"/><path d="M709.7,360.0 L718.5,361.0 L736.0,360.6 L739.5,360.0 L741.1,358.9 L741.4,357.4 L739.8,353.8 L737.0,351.0 L735.4,350.3 L728.6,349.4 L717.3,349.5 L713.4,350.3 L712.0,351.0 L709.3,353.8 L707.7,357.4 L708.1,358.9 L709.7,360.0Z" fill="#d3d3d3"/><path d="M710.5,357.9 L713.5,358.4 L724.6,358.9 L735.8,358.4 L738.7,357.9 L739.2,357.4 L736.9,353.8 L734.7,352.4 L730.9,351.7 L719.6,351.6 L715.7,352.0 L713.3,352.8 L710.3,356.5 L710.0,357.4 L710.5,357.9Z" fill="#b8b8b8"/><path d="M736.0,188.2 L738.2,189.2 L742.0,189.8 L746.0,189.2 L748.5,188.2 L746.0,187.1 L742.0,186.4 L738.2,187.1 L736.0,188.2Z" fill="#d3d3d3"/><ellipse cx="777.7" cy="199.9" rx="15.6" ry="6.9" fill="#d3d3d3"/><ellipse cx="777.7" cy="198.6" rx="11.0" ry="5.1" fill="#b8b8b8"/><ellipse cx="777.5" cy="197.3" rx="6.5" ry="3.0" fill="#9a9a9a"/><path d="M773.0,195.0 C773.8,194.2 781.2,194.2 782.0,195.0 C782.8,195.8 779.0,199.5 777.5,199.5 C776.0,199.5 772.2,195.8 773.0,195.0Z" fill="#777777"/><path d="M852.0,192.5 C852.0,191.2 856.0,189.1 858.0,188.2 C860.0,187.3 862.0,187.3 864.0,187.3 C866.0,187.3 868.0,187.3 870.0,188.2 C872.0,189.1 876.0,191.2 876.0,192.5 C876.0,193.8 873.0,195.7 870.0,196.3 C867.0,196.9 861.0,196.9 858.0,196.3 C855.0,195.7 852.0,193.8 852.0,192.5Z" fill="#d3d3d3"/><path d="M860.0,193.8 C859.3,193.4 862.7,191.5 864.0,191.5 C865.3,191.5 868.7,193.4 868.0,193.8 C867.3,194.2 860.7,194.2 860.0,193.8Z" fill="#b8b8b8"/><path d="M878.0,223.0 L877.6,230.0 L878.0,237.0 L879.3,239.6 L882.1,239.9 L883.7,238.2 L884.2,235.2 L884.0,223.0 L883.2,221.0 L882.1,220.1 L881.0,220.0 L879.9,220.1 L878.8,221.0 L878.0,223.0Z" fill="#d3d3d3"/><path d="M883.2,300.0 L882.7,305.2 L883.2,326.8 L884.0,329.5 L885.0,330.3 L886.4,330.8 L889.7,330.8 L892.0,329.5 L892.4,326.1 L891.7,319.3 L892.0,318.0 L892.6,317.4 L898.0,319.0 L903.8,320.0 L906.2,319.8 L910.8,318.1 L914.7,318.3 L918.8,319.4 L922.8,321.9 L925.0,325.0 L927.5,333.6 L929.0,337.0 L932.5,339.4 L933.7,339.4 L934.7,338.7 L935.8,333.8 L936.2,318.0 L935.0,310.0 L933.7,308.4 L931.9,308.0 L924.0,309.6 L922.9,309.1 L920.0,306.0 L916.8,309.7 L915.1,309.8 L912.9,308.6 L910.0,306.0 L908.5,300.9 L907.3,299.2 L904.6,297.0 L902.0,296.0 L893.8,295.6 L887.1,296.5 L884.8,297.5 L883.2,300.0Z" fill="#d3d3d3"/><ellipse cx="899" cy="309" rx="4.5" ry="3" fill="#b8b8b8"/><rect x="885.5" y="308" width="2.5" height="18.0" rx="1.2" fill="#b8b8b8"/><rect x="914" y="313" width="2.5" height="16.0" rx="1.2" fill="#b8b8b8"/><rect x="930.5" y="318" width="2.5" height="17.0" rx="1.2" fill="#b8b8b8"/><path d="M935.4,300.0 L934.9,308.2 L936.1,314.8 L937.3,317.0 L938.4,317.8 L942.0,319.0 L947.0,319.3 L958.0,318.8 L994.2,314.3 L1009.5,313.8 L1017.6,314.8 L1020.4,316.1 L1021.8,318.4 L1022.0,321.6 L1020.5,332.0 L1021.3,334.2 L1023.4,335.3 L1026.3,335.8 L1033.2,335.4 L1038.4,334.2 L1039.5,333.4 L1039.2,329.5 L1039.6,328.2 L1041.0,327.0 L1043.7,326.0 L1062.8,321.5 L1064.2,320.5 L1064.4,319.4 L1063.9,317.4 L1064.5,316.5 L1066.4,316.0 L1070.2,315.9 L1087.4,317.3 L1092.5,317.4 L1096.0,317.0 L1098.1,315.7 L1099.3,313.8 L1099.7,311.6 L1099.3,309.3 L1098.1,307.4 L1096.0,306.2 L1092.8,305.8 L1066.4,308.0 L1043.8,307.4 L1034.9,306.3 L1021.9,303.4 L1012.2,301.7 L976.0,299.9 L968.7,298.1 L960.8,295.0 L954.8,294.0 L945.0,293.8 L940.0,294.4 L938.4,294.9 L936.6,296.4 L935.4,300.0Z" fill="#d3d3d3"/><path d="M936.0,303.0 C937.0,300.5 938.3,296.4 942.0,295.0 C945.7,293.6 952.3,293.9 958.0,294.8 C963.7,295.7 967.0,299.2 976.0,300.5 C985.0,301.8 1003.0,301.8 1012.0,302.8 C1021.0,303.8 1027.7,304.6 1030.0,306.5 C1032.3,308.4 1032.0,313.3 1026.0,314.5 C1020.0,315.7 1005.3,313.2 994.0,313.5 C982.7,313.8 966.8,316.2 958.0,316.5 C949.2,316.8 944.7,316.6 941.0,315.5 C937.3,314.4 936.8,312.1 936.0,310.0 C935.2,307.9 935.0,305.5 936.0,303.0Z" fill="#b8b8b8"/><path d="M1022.0,310.7 L1020.4,311.7 L1019.9,313.0 L1022.0,320.0 L1022.4,329.5 L1022.9,331.5 L1024.0,333.0 L1028.2,334.3 L1033.8,334.2 L1038.0,333.0 L1038.8,331.9 L1038.9,324.5 L1040.0,323.0 L1045.3,321.0 L1058.0,318.0 L1061.2,315.9 L1063.0,313.7 L1063.2,312.7 L1061.9,311.5 L1058.4,311.1 L1029.8,310.1 L1022.0,310.7Z" fill="#d3d3d3"/><path d="M1022.0,310.7 L1020.4,311.7 L1019.9,313.0 L1022.0,320.0 L1022.4,329.5 L1022.9,331.5 L1024.0,333.0 L1028.2,334.3 L1033.8,334.2 L1038.0,333.0 L1038.8,331.9 L1038.9,324.5 L1040.0,323.0 L1045.3,321.0 L1058.0,318.0 L1061.2,315.9 L1063.0,313.7 L1063.2,312.7 L1061.9,311.5 L1058.4,311.1 L1029.8,310.1 L1022.0,310.7Z" fill="#b8b8b8"/><path d="M947.0,297.0 L946.0,297.8 L945.3,300.5 L946.2,306.3 L947.7,310.1 L950.0,311.6 L957.3,311.1 L965.0,309.0 L970.3,306.1 L972.4,304.0 L972.5,303.0 L970.5,301.3 L964.2,299.1 L953.9,297.0 L948.7,296.7 L947.0,297.0Z" fill="#d3d3d3"/><path d="M947.0,297.0 L946.0,297.8 L945.3,300.5 L946.2,306.3 L947.7,310.1 L950.0,311.6 L957.3,311.1 L965.0,309.0 L970.3,306.1 L972.4,304.0 L972.5,303.0 L970.5,301.3 L964.2,299.1 L953.9,297.0 L948.7,296.7 L947.0,297.0Z" fill="#b8b8b8"/><path d="M947.0,297.0 L946.0,297.8 L945.3,300.5 L946.2,306.3 L947.7,310.1 L950.0,311.6 L957.3,311.1 L965.0,309.0 L970.3,306.1 L972.4,304.0 L972.5,303.0 L970.5,301.3 L964.2,299.1 L953.9,297.0 L948.7,296.7 L947.0,297.0Z" fill="#9a9a9a"/><path d="M975.0,306.2 L980.6,307.0 L990.0,307.5 L999.4,307.0 L1005.0,306.2 L999.4,305.4 L990.0,305.0 L980.6,305.4 L975.0,306.2Z" fill="#d3d3d3"/><path d="M975.0,306.2 L980.6,307.0 L990.0,307.5 L999.4,307.0 L1005.0,306.2 L999.4,305.4 L990.0,305.0 L980.6,305.4 L975.0,306.2Z" fill="#b8b8b8"/><path d="M975.0,306.2 L980.6,307.0 L990.0,307.5 L999.4,307.0 L1005.0,306.2 L999.4,305.4 L990.0,305.0 L980.6,305.4 L975.0,306.2Z" fill="#9a9a9a"/><path d="M1075.0,311.0 L1078.4,311.9 L1084.0,312.5 L1089.6,311.9 L1093.0,311.0 L1089.6,310.1 L1084.0,309.5 L1078.4,310.1 L1075.0,311.0Z" fill="#d3d3d3"/><path d="M1075.0,311.0 L1078.4,311.9 L1084.0,312.5 L1089.6,311.9 L1093.0,311.0 L1089.6,310.1 L1084.0,309.5 L1078.4,310.1 L1075.0,311.0Z" fill="#b8b8b8"/><path d="M1010.4,186.4 L1011.3,189.4 L1012.9,191.2 L1015.5,192.2 L1019.5,192.5 L1023.5,192.2 L1026.1,191.2 L1027.7,189.4 L1028.6,186.4 L1027.7,183.4 L1026.1,181.6 L1023.5,180.6 L1019.5,180.3 L1015.5,180.6 L1012.9,181.6 L1011.3,183.4 L1010.4,186.4Z" fill="#d3d3d3"/></g>
<line x1="265.7" y1="97.7" x2="265.7" y2="359.2" stroke="#8a8a8a" stroke-width="1"/>
<line x1="403.9" y1="97.7" x2="403.9" y2="359.2" stroke="#8a8a8a" stroke-width="1"/>
<line x1="542.1" y1="97.7" x2="542.1" y2="359.2" stroke="#8a8a8a" stroke-width="1"/>
<line x1="680.3" y1="97.7" x2="680.3" y2="359.2" stroke="#8a8a8a" stroke-width="1"/>
<line x1="818.5" y1="97.7" x2="818.5" y2="359.2" stroke="#8a8a8a" stroke-width="1"/>
<line x1="956.7" y1="97.7" x2="956.7" y2="359.2" stroke="#8a8a8a" stroke-width="1"/>
<line x1="127.5" y1="321.8" x2="1094.9" y2="321.8" stroke="#444" stroke-width="1" stroke-dasharray="1.2,2.3"/>
<line x1="127.5" y1="284.5" x2="1094.9" y2="284.5" stroke="#444" stroke-width="1" stroke-dasharray="1.2,2.3"/>
<line x1="127.5" y1="247.1" x2="1094.9" y2="247.1" stroke="#444" stroke-width="1" stroke-dasharray="1.2,2.3"/>
<line x1="127.5" y1="209.8" x2="1094.9" y2="209.8" stroke="#444" stroke-width="1" stroke-dasharray="1.2,2.3"/>
<line x1="127.5" y1="172.4" x2="1094.9" y2="172.4" stroke="#444" stroke-width="1" stroke-dasharray="1.2,2.3"/>
<line x1="127.5" y1="352.9" x2="1094.9" y2="352.9" stroke="#333" stroke-width="1.2"/>
<line x1="144.8" y1="354.4" x2="144.8" y2="359.2" stroke="#333" stroke-width="1.2"/>
<line x1="162.1" y1="349" x2="162.1" y2="359.2" stroke="#333" stroke-width="1.2"/>
<line x1="179.3" y1="354.4" x2="179.3" y2="359.2" stroke="#333" stroke-width="1.2"/>
<line x1="196.6" y1="349" x2="196.6" y2="359.2" stroke="#333" stroke-width="1.2"/>
<line x1="213.9" y1="354.4" x2="213.9" y2="359.2" stroke="#333" stroke-width="1.2"/>
<line x1="231.1" y1="349" x2="231.1" y2="359.2" stroke="#333" stroke-width="1.2"/>
<line x1="248.4" y1="354.4" x2="248.4" y2="359.2" stroke="#333" stroke-width="1.2"/>
<line x1="283.0" y1="354.4" x2="283.0" y2="359.2" stroke="#333" stroke-width="1.2"/>
<line x1="300.2" y1="349" x2="300.2" y2="359.2" stroke="#333" stroke-width="1.2"/>
<line x1="317.5" y1="354.4" x2="317.5" y2="359.2" stroke="#333" stroke-width="1.2"/>
<line x1="334.8" y1="349" x2="334.8" y2="359.2" stroke="#333" stroke-width="1.2"/>
<line x1="352.1" y1="354.4" x2="352.1" y2="359.2" stroke="#333" stroke-width="1.2"/>
<line x1="369.3" y1="349" x2="369.3" y2="359.2" stroke="#333" stroke-width="1.2"/>
<line x1="386.6" y1="354.4" x2="386.6" y2="359.2" stroke="#333" stroke-width="1.2"/>
<line x1="421.2" y1="354.4" x2="421.2" y2="359.2" stroke="#333" stroke-width="1.2"/>
<line x1="438.4" y1="349" x2="438.4" y2="359.2" stroke="#333" stroke-width="1.2"/>
<line x1="455.7" y1="354.4" x2="455.7" y2="359.2" stroke="#333" stroke-width="1.2"/>
<line x1="473.0" y1="349" x2="473.0" y2="359.2" stroke="#333" stroke-width="1.2"/>
<line x1="490.3" y1="354.4" x2="490.3" y2="359.2" stroke="#333" stroke-width="1.2"/>
<line x1="507.5" y1="349" x2="507.5" y2="359.2" stroke="#333" stroke-width="1.2"/>
<line x1="524.8" y1="354.4" x2="524.8" y2="359.2" stroke="#333" stroke-width="1.2"/>
<line x1="559.4" y1="354.4" x2="559.4" y2="359.2" stroke="#333" stroke-width="1.2"/>
<line x1="576.6" y1="349" x2="576.6" y2="359.2" stroke="#333" stroke-width="1.2"/>
<line x1="593.9" y1="354.4" x2="593.9" y2="359.2" stroke="#333" stroke-width="1.2"/>
<line x1="611.2" y1="349" x2="611.2" y2="359.2" stroke="#333" stroke-width="1.2"/>
<line x1="628.5" y1="354.4" x2="628.5" y2="359.2" stroke="#333" stroke-width="1.2"/>
<line x1="645.8" y1="349" x2="645.8" y2="359.2" stroke="#333" stroke-width="1.2"/>
<line x1="663.0" y1="354.4" x2="663.0" y2="359.2" stroke="#333" stroke-width="1.2"/>
<line x1="697.6" y1="354.4" x2="697.6" y2="359.2" stroke="#333" stroke-width="1.2"/>
<line x1="714.8" y1="349" x2="714.8" y2="359.2" stroke="#333" stroke-width="1.2"/>
<line x1="732.1" y1="354.4" x2="732.1" y2="359.2" stroke="#333" stroke-width="1.2"/>
<line x1="749.4" y1="349" x2="749.4" y2="359.2" stroke="#333" stroke-width="1.2"/>
<line x1="766.7" y1="354.4" x2="766.7" y2="359.2" stroke="#333" stroke-width="1.2"/>
<line x1="783.9" y1="349" x2="783.9" y2="359.2" stroke="#333" stroke-width="1.2"/>
<line x1="801.2" y1="354.4" x2="801.2" y2="359.2" stroke="#333" stroke-width="1.2"/>
<line x1="835.8" y1="354.4" x2="835.8" y2="359.2" stroke="#333" stroke-width="1.2"/>
<line x1="853.0" y1="349" x2="853.0" y2="359.2" stroke="#333" stroke-width="1.2"/>
<line x1="870.3" y1="354.4" x2="870.3" y2="359.2" stroke="#333" stroke-width="1.2"/>
<line x1="887.6" y1="349" x2="887.6" y2="359.2" stroke="#333" stroke-width="1.2"/>
<line x1="904.9" y1="354.4" x2="904.9" y2="359.2" stroke="#333" stroke-width="1.2"/>
<line x1="922.1" y1="349" x2="922.1" y2="359.2" stroke="#333" stroke-width="1.2"/>
<line x1="939.4" y1="354.4" x2="939.4" y2="359.2" stroke="#333" stroke-width="1.2"/>
<line x1="974.0" y1="354.4" x2="974.0" y2="359.2" stroke="#333" stroke-width="1.2"/>
<line x1="991.2" y1="349" x2="991.2" y2="359.2" stroke="#333" stroke-width="1.2"/>
<line x1="1008.5" y1="354.4" x2="1008.5" y2="359.2" stroke="#333" stroke-width="1.2"/>
<line x1="1025.8" y1="349" x2="1025.8" y2="359.2" stroke="#333" stroke-width="1.2"/>
<line x1="1043.1" y1="354.4" x2="1043.1" y2="359.2" stroke="#333" stroke-width="1.2"/>
<line x1="1060.3" y1="349" x2="1060.3" y2="359.2" stroke="#333" stroke-width="1.2"/>
<line x1="1077.6" y1="354.4" x2="1077.6" y2="359.2" stroke="#333" stroke-width="1.2"/>
<line x1="162" y1="97.7" x2="162" y2="359.2" stroke="#111" stroke-width="2" stroke-dasharray="4.5,3"/>
<rect x="672.3" y="355" width="3.5" height="4.2" fill="#0050ff"/>
<rect x="678.2" y="336.2" width="3.6" height="23.0" fill="#0050ff"/>
<rect x="683.8" y="317.8" width="3.5" height="41.4" fill="#0050ff"/>
<rect x="689.2" y="329" width="3.7" height="30.2" fill="#0050ff"/>
<rect x="127.5" y="97.7" width="967.4" height="261.5" fill="none" stroke="#000" stroke-width="1.3"/>
<path d="M127.7,299.3 L144.0,306.0 L155.3,328.3 L162.9,324.2  L162.9,324.2 C164.3,322.8 171.0,317.2 173.7,313.4 C176.4,309.6 180.7,301.0 183.2,295.8 C185.7,290.6 190.0,279.9 192.7,274.1 C195.4,268.3 201.0,256.4 203.5,252.5 C206.0,248.6 209.6,246.2 211.6,244.9 C213.6,243.6 216.6,242.9 218.4,243.0 C220.2,243.1 222.9,243.7 225.2,245.7 C227.5,247.7 233.7,254.6 236.0,257.9 C238.3,261.2 240.6,267.4 242.8,270.1 C245.0,272.8 249.1,276.4 252.2,278.2 C255.3,280.0 262.5,283.1 265.8,283.6 C269.1,284.1 274.0,282.3 276.6,281.7 C279.2,281.1 282.9,279.6 285.0,279.0 C287.1,278.4 289.6,277.5 292.2,277.0 C294.8,276.5 302.0,276.2 304.4,275.4 C306.8,274.6 308.3,273.1 310.5,270.9 C312.7,268.7 317.9,262.0 320.6,258.7 C323.3,255.4 328.1,249.7 330.8,246.5 C333.5,243.3 338.3,236.6 340.9,234.4 C343.5,232.2 347.8,230.4 350.0,229.9 C352.2,229.4 355.2,230.0 357.2,230.9 C359.2,231.8 362.9,234.0 365.3,236.4 C367.7,238.8 372.0,245.2 375.4,248.6 C378.8,252.0 386.9,259.4 390.7,261.8 C394.5,264.2 399.7,265.3 403.9,266.9 C408.1,268.5 417.8,272.4 422.1,274.0 C426.4,275.6 433.4,278.4 436.3,278.6 C439.2,278.8 441.3,277.4 443.5,275.6 C445.7,273.8 449.9,269.0 452.6,265.4 C455.3,261.8 461.3,252.6 463.9,248.5 C466.5,244.4 469.4,238.0 471.8,235.0 C474.2,232.0 479.5,227.6 481.9,226.0 C484.3,224.4 487.8,223.4 489.8,223.2 C491.8,223.0 494.3,223.1 496.6,224.8 C498.9,226.5 503.8,232.3 506.7,236.1 C509.6,239.9 514.7,249.1 518.0,253.0 C521.3,256.9 528.3,262.8 531.6,265.4 C534.9,268.0 539.5,271.2 542.8,272.7 C546.1,274.2 552.8,275.9 556.4,276.7 C560.0,277.5 566.8,279.0 569.9,279.0 C573.0,279.0 577.6,278.1 580.0,276.9 C582.4,275.7 585.8,272.8 587.9,270.1 C590.0,267.4 593.8,260.4 596.0,257.0 C598.2,253.6 602.4,248.0 604.5,244.5 C606.6,241.0 609.9,234.5 612.0,231.0 C614.1,227.5 618.0,220.8 620.3,218.5 C622.6,216.2 627.2,214.5 629.3,214.0 C631.4,213.5 633.9,213.8 636.0,215.0 C638.1,216.2 642.5,220.6 645.0,223.0 C647.5,225.4 652.3,230.4 655.0,233.0 C657.7,235.6 661.6,239.9 665.4,242.2 C669.2,244.5 678.6,248.3 683.4,250.0 C688.2,251.7 697.4,253.8 701.5,254.6 C705.6,255.4 711.2,256.4 714.3,255.9 C717.4,255.4 721.0,254.4 724.4,250.9 C727.8,247.4 735.9,234.9 740.0,229.5 C744.1,224.1 751.5,213.3 754.8,210.3 C758.1,207.3 762.4,207.0 765.0,206.9 C767.6,206.8 771.4,207.5 774.0,209.2 C776.6,210.9 780.7,215.4 784.2,219.3 C787.7,223.2 795.8,234.4 800.0,238.5 C804.2,242.6 811.3,246.9 815.8,249.8 C820.3,252.7 829.0,257.4 833.8,260.0 C838.6,262.6 848.3,268.8 851.9,269.4 C855.5,270.0 857.9,267.6 860.9,264.5 C863.9,261.4 870.5,251.5 874.4,246.4 C878.3,241.3 886.9,229.8 890.0,226.1 C893.1,222.4 896.1,220.1 898.0,218.9 C899.9,217.7 902.7,217.1 904.4,217.1 C906.1,217.1 908.6,217.6 910.5,218.9 C912.4,220.2 914.6,222.5 918.4,227.2 C922.2,231.9 933.9,249.2 938.7,254.3 C943.5,259.4 949.7,262.9 954.5,265.2 C959.3,267.5 969.8,269.7 974.8,271.2 C979.8,272.7 988.1,276.0 991.7,276.2 C995.3,276.4 998.4,276.4 1001.9,272.4 C1005.4,268.4 1014.4,250.9 1017.7,246.4 C1021.0,241.9 1024.2,240.2 1026.7,238.5 C1029.2,236.8 1034.2,234.8 1036.5,234.0 C1038.8,233.2 1041.9,232.3 1043.7,232.3 C1045.5,232.3 1047.7,232.6 1049.7,234.0 C1051.7,235.4 1056.0,239.7 1058.9,242.5 C1061.8,245.3 1067.9,252.3 1071.1,254.7 C1074.3,257.1 1080.1,259.1 1083.2,260.8 C1086.3,262.5 1092.9,266.4 1094.4,267.3" fill="none" stroke="#ff0000" stroke-width="3.3" stroke-linejoin="round" stroke-linecap="butt"/>
<text x="155.5" y="349.6" font-size="16.7" fill="#000" text-anchor="middle" textLength="10.9" lengthAdjust="spacingAndGlyphs" stroke="#000" stroke-width="0.12">3</text>
<text x="218.4" y="265.4" font-size="16.7" fill="#000" text-anchor="middle" textLength="21.9" lengthAdjust="spacingAndGlyphs" stroke="#000" stroke-width="0.12">15</text>
<text x="264.4" y="304.6" font-size="16.7" fill="#000" text-anchor="middle" textLength="10.9" lengthAdjust="spacingAndGlyphs" stroke="#000" stroke-width="0.12">9</text>
<text x="351.0" y="251.6" font-size="16.7" fill="#000" text-anchor="middle" textLength="21.9" lengthAdjust="spacingAndGlyphs" stroke="#000" stroke-width="0.12">17</text>
<text x="437.5" y="299.9" font-size="16.7" fill="#000" text-anchor="middle" textLength="21.9" lengthAdjust="spacingAndGlyphs" stroke="#000" stroke-width="0.12">10</text>
<text x="489.8" y="244.9" font-size="16.7" fill="#000" text-anchor="middle" textLength="21.9" lengthAdjust="spacingAndGlyphs" stroke="#000" stroke-width="0.12">18</text>
<text x="570.0" y="299.6" font-size="16.7" fill="#000" text-anchor="middle" textLength="21.9" lengthAdjust="spacingAndGlyphs" stroke="#000" stroke-width="0.12">10</text>
<text x="627.4" y="236.3" font-size="16.7" fill="#000" text-anchor="middle" textLength="21.9" lengthAdjust="spacingAndGlyphs" stroke="#000" stroke-width="0.12">19</text>
<text x="714.7" y="276.7" font-size="16.7" fill="#000" text-anchor="middle" textLength="21.9" lengthAdjust="spacingAndGlyphs" stroke="#000" stroke-width="0.12">13</text>
<text x="765.7" y="228.3" font-size="16.7" fill="#000" text-anchor="middle" textLength="21.9" lengthAdjust="spacingAndGlyphs" stroke="#000" stroke-width="0.12">20</text>
<text x="852.2" y="292.1" font-size="16.7" fill="#000" text-anchor="middle" textLength="21.9" lengthAdjust="spacingAndGlyphs" stroke="#000" stroke-width="0.12">11</text>
<text x="904.4" y="239.0" font-size="16.7" fill="#000" text-anchor="middle" textLength="21.9" lengthAdjust="spacingAndGlyphs" stroke="#000" stroke-width="0.12">19</text>
<text x="990.6" y="298.1" font-size="16.7" fill="#000" text-anchor="middle" textLength="21.9" lengthAdjust="spacingAndGlyphs" stroke="#000" stroke-width="0.12">10</text>
<text x="1042.6" y="254.3" font-size="16.7" fill="#000" text-anchor="middle" textLength="21.9" lengthAdjust="spacingAndGlyphs" stroke="#000" stroke-width="0.12">17</text>
<text x="1093.4" y="289.2" font-size="16.7" fill="#000" text-anchor="middle" textLength="21.9" lengthAdjust="spacingAndGlyphs" stroke="#000" stroke-width="0.12">12</text>
<g><path d="M146.0,100.5 C136.2,102.5 131.3,113.2 134.2,119.1 C136.2,124.0 141.1,126.0 145.0,125.5 C139.1,121.1 138.2,109.3 146.0,100.5Z" fill="#f7f7f7" stroke="#000" stroke-width="1.4" stroke-linejoin="round"/><circle cx="143.2" cy="122.2" r="3.9" fill="#2f5282"/><circle cx="147.8" cy="119.9" r="4.3" fill="#2f5282"/><circle cx="152.8" cy="122.4" r="3.9" fill="#2f5282"/><rect x="143.2" y="122.2" width="9.6" height="3.3" fill="#2f5282"/><circle cx="143.2" cy="122.2" r="2.4" fill="#d0d0d0"/><circle cx="147.8" cy="119.9" r="2.8" fill="#d0d0d0"/><circle cx="152.8" cy="122.4" r="2.4" fill="#d0d0d0"/><rect x="143.2" y="122.2" width="9.6" height="2.0" fill="#d0d0d0"/><path d="M149.8,121.6 A3.2,3.2 0 0 1 152.6,119.2" fill="none" stroke="#2f5282" stroke-width="1.5" stroke-linecap="round"/><line x1="173.9" y1="110.6" x2="169.1" y2="109.3" stroke="#f2dc1c" stroke-width="2.1" stroke-linecap="round"/><line x1="177.6" y1="105.8" x2="175.1" y2="101.4" stroke="#f2dc1c" stroke-width="2.1" stroke-linecap="round"/><line x1="183.6" y1="105.0" x2="184.9" y2="100.1" stroke="#f2dc1c" stroke-width="2.1" stroke-linecap="round"/><line x1="188.4" y1="108.6" x2="192.7" y2="106.1" stroke="#f2dc1c" stroke-width="2.1" stroke-linecap="round"/><line x1="189.2" y1="114.6" x2="194.0" y2="115.9" stroke="#f2dc1c" stroke-width="2.1" stroke-linecap="round"/><line x1="185.5" y1="119.4" x2="188.0" y2="123.8" stroke="#f2dc1c" stroke-width="2.1" stroke-linecap="round"/><line x1="179.5" y1="120.2" x2="178.2" y2="125.1" stroke="#f2dc1c" stroke-width="2.1" stroke-linecap="round"/><line x1="174.7" y1="116.5" x2="170.4" y2="119.0" stroke="#f2dc1c" stroke-width="2.1" stroke-linecap="round"/><circle cx="181.5" cy="112.6" r="6.4" fill="#f6e418" stroke="#f0b030" stroke-width="0.7"/><circle cx="167.2" cy="122.7" r="5.1" fill="#3264c0"/><circle cx="173.1" cy="119.6" r="5.5" fill="#3264c0"/><circle cx="179.7" cy="122.9" r="5.1" fill="#3264c0"/><rect x="167.2" y="122.7" width="12.5" height="4.3" fill="#3264c0"/><circle cx="167.2" cy="122.7" r="3.3" fill="#d0d0d0"/><circle cx="173.1" cy="119.6" r="3.7" fill="#d0d0d0"/><circle cx="179.7" cy="122.9" r="3.3" fill="#d0d0d0"/><rect x="167.2" y="122.7" width="12.5" height="2.7" fill="#d0d0d0"/><path d="M175.6,121.8 A4.2,4.2 0 0 1 179.3,118.6" fill="none" stroke="#3264c0" stroke-width="1.8" stroke-linecap="round"/><line x1="208.4" y1="110.6" x2="203.6" y2="109.3" stroke="#f2dc1c" stroke-width="2.1" stroke-linecap="round"/><line x1="212.1" y1="105.8" x2="209.6" y2="101.4" stroke="#f2dc1c" stroke-width="2.1" stroke-linecap="round"/><line x1="218.1" y1="105.0" x2="219.4" y2="100.1" stroke="#f2dc1c" stroke-width="2.1" stroke-linecap="round"/><line x1="222.9" y1="108.6" x2="227.2" y2="106.1" stroke="#f2dc1c" stroke-width="2.1" stroke-linecap="round"/><line x1="223.7" y1="114.6" x2="228.5" y2="115.9" stroke="#f2dc1c" stroke-width="2.1" stroke-linecap="round"/><line x1="220.0" y1="119.4" x2="222.5" y2="123.8" stroke="#f2dc1c" stroke-width="2.1" stroke-linecap="round"/><line x1="214.0" y1="120.2" x2="212.7" y2="125.1" stroke="#f2dc1c" stroke-width="2.1" stroke-linecap="round"/><line x1="209.2" y1="116.5" x2="204.9" y2="119.0" stroke="#f2dc1c" stroke-width="2.1" stroke-linecap="round"/><circle cx="216.1" cy="112.6" r="6.4" fill="#f6e418" stroke="#f0b030" stroke-width="0.7"/><circle cx="201.7" cy="122.7" r="5.1" fill="#3264c0"/><circle cx="207.7" cy="119.6" r="5.5" fill="#3264c0"/><circle cx="214.2" cy="122.9" r="5.1" fill="#3264c0"/><rect x="201.7" y="122.7" width="12.5" height="4.3" fill="#3264c0"/><circle cx="201.7" cy="122.7" r="3.3" fill="#d0d0d0"/><circle cx="207.7" cy="119.6" r="3.7" fill="#d0d0d0"/><circle cx="214.2" cy="122.9" r="3.3" fill="#d0d0d0"/><rect x="201.7" y="122.7" width="12.5" height="2.7" fill="#d0d0d0"/><path d="M210.1,121.8 A4.2,4.2 0 0 1 213.9,118.6" fill="none" stroke="#3264c0" stroke-width="1.8" stroke-linecap="round"/><path d="M247.8,100.6 C237.9,102.6 232.9,113.5 235.9,119.5 C237.9,124.4 242.9,126.4 246.8,125.9 C240.9,121.4 239.9,109.5 247.8,100.6Z" fill="#f7f7f7" stroke="#000" stroke-width="1.4" stroke-linejoin="round"/><circle cx="243.8" cy="121.2" r="5.6" fill="#2f5282"/><circle cx="250.3" cy="117.8" r="6.0" fill="#2f5282"/><circle cx="257.4" cy="121.4" r="5.6" fill="#2f5282"/><rect x="243.8" y="121.2" width="13.6" height="4.7" fill="#2f5282"/><circle cx="243.8" cy="121.2" r="4.0" fill="#d0d0d0"/><circle cx="250.3" cy="117.8" r="4.4" fill="#d0d0d0"/><circle cx="257.4" cy="121.4" r="4.0" fill="#d0d0d0"/><rect x="243.8" y="121.2" width="13.6" height="3.3" fill="#d0d0d0"/><path d="M252.8,120.2 A4.8,4.8 0 0 1 257.0,116.6" fill="none" stroke="#2f5282" stroke-width="1.6" stroke-linecap="round"/><circle cx="272.6" cy="116.2" r="7.7" fill="#2f5282"/><circle cx="281.5" cy="111.6" r="8.3" fill="#2f5282"/><circle cx="291.3" cy="116.5" r="7.7" fill="#2f5282"/><rect x="272.6" y="116.2" width="18.7" height="6.4" fill="#2f5282"/><circle cx="272.6" cy="116.2" r="6.1" fill="#d0d0d0"/><circle cx="281.5" cy="111.6" r="6.7" fill="#d0d0d0"/><circle cx="291.3" cy="116.5" r="6.1" fill="#d0d0d0"/><rect x="272.6" y="116.2" width="18.7" height="5.0" fill="#d0d0d0"/><path d="M284.7,114.8 A6.9,6.9 0 0 1 290.7,109.7" fill="none" stroke="#2f5282" stroke-width="1.6" stroke-linecap="round"/><circle cx="278.8" cy="120.5" r="5.3" fill="#2f5282"/><circle cx="284.9" cy="117.3" r="5.7" fill="#2f5282"/><circle cx="291.7" cy="120.7" r="5.3" fill="#2f5282"/><rect x="278.8" y="120.5" width="12.9" height="4.4" fill="#2f5282"/><circle cx="278.8" cy="120.5" r="3.7" fill="#ffffff"/><circle cx="284.9" cy="117.3" r="4.1" fill="#ffffff"/><circle cx="291.7" cy="120.7" r="3.7" fill="#ffffff"/><rect x="278.8" y="120.5" width="12.9" height="3.0" fill="#ffffff"/><path d="M287.3,119.5 A4.5,4.5 0 0 1 291.3,116.2" fill="none" stroke="#2f5282" stroke-width="1.6" stroke-linecap="round"/><line x1="312.1" y1="110.6" x2="307.3" y2="109.3" stroke="#f2dc1c" stroke-width="2.1" stroke-linecap="round"/><line x1="315.8" y1="105.8" x2="313.3" y2="101.4" stroke="#f2dc1c" stroke-width="2.1" stroke-linecap="round"/><line x1="321.8" y1="105.0" x2="323.1" y2="100.1" stroke="#f2dc1c" stroke-width="2.1" stroke-linecap="round"/><line x1="326.6" y1="108.6" x2="330.9" y2="106.1" stroke="#f2dc1c" stroke-width="2.1" stroke-linecap="round"/><line x1="327.4" y1="114.6" x2="332.2" y2="115.9" stroke="#f2dc1c" stroke-width="2.1" stroke-linecap="round"/><line x1="323.7" y1="119.4" x2="326.2" y2="123.8" stroke="#f2dc1c" stroke-width="2.1" stroke-linecap="round"/><line x1="317.7" y1="120.2" x2="316.4" y2="125.1" stroke="#f2dc1c" stroke-width="2.1" stroke-linecap="round"/><line x1="312.9" y1="116.5" x2="308.6" y2="119.0" stroke="#f2dc1c" stroke-width="2.1" stroke-linecap="round"/><circle cx="319.7" cy="112.6" r="6.4" fill="#f6e418" stroke="#f0b030" stroke-width="0.7"/><circle cx="305.4" cy="122.7" r="5.1" fill="#3264c0"/><circle cx="311.3" cy="119.6" r="5.5" fill="#3264c0"/><circle cx="317.9" cy="122.9" r="5.1" fill="#3264c0"/><rect x="305.4" y="122.7" width="12.5" height="4.3" fill="#3264c0"/><circle cx="305.4" cy="122.7" r="3.3" fill="#d0d0d0"/><circle cx="311.3" cy="119.6" r="3.7" fill="#d0d0d0"/><circle cx="317.9" cy="122.9" r="3.3" fill="#d0d0d0"/><rect x="305.4" y="122.7" width="12.5" height="2.7" fill="#d0d0d0"/><path d="M313.8,121.8 A4.2,4.2 0 0 1 317.5,118.6" fill="none" stroke="#3264c0" stroke-width="1.8" stroke-linecap="round"/><line x1="346.6" y1="110.6" x2="341.8" y2="109.3" stroke="#f2dc1c" stroke-width="2.1" stroke-linecap="round"/><line x1="350.3" y1="105.8" x2="347.8" y2="101.4" stroke="#f2dc1c" stroke-width="2.1" stroke-linecap="round"/><line x1="356.3" y1="105.0" x2="357.6" y2="100.1" stroke="#f2dc1c" stroke-width="2.1" stroke-linecap="round"/><line x1="361.1" y1="108.6" x2="365.4" y2="106.1" stroke="#f2dc1c" stroke-width="2.1" stroke-linecap="round"/><line x1="361.9" y1="114.6" x2="366.7" y2="115.9" stroke="#f2dc1c" stroke-width="2.1" stroke-linecap="round"/><line x1="358.2" y1="119.4" x2="360.7" y2="123.8" stroke="#f2dc1c" stroke-width="2.1" stroke-linecap="round"/><line x1="352.2" y1="120.2" x2="350.9" y2="125.1" stroke="#f2dc1c" stroke-width="2.1" stroke-linecap="round"/><line x1="347.4" y1="116.5" x2="343.1" y2="119.0" stroke="#f2dc1c" stroke-width="2.1" stroke-linecap="round"/><circle cx="354.3" cy="112.6" r="6.4" fill="#f6e418" stroke="#f0b030" stroke-width="0.7"/><circle cx="339.9" cy="122.7" r="5.1" fill="#3264c0"/><circle cx="345.9" cy="119.6" r="5.5" fill="#3264c0"/><circle cx="352.4" cy="122.9" r="5.1" fill="#3264c0"/><rect x="339.9" y="122.7" width="12.5" height="4.3" fill="#3264c0"/><circle cx="339.9" cy="122.7" r="3.3" fill="#d0d0d0"/><circle cx="345.9" cy="119.6" r="3.7" fill="#d0d0d0"/><circle cx="352.4" cy="122.9" r="3.3" fill="#d0d0d0"/><rect x="339.9" y="122.7" width="12.5" height="2.7" fill="#d0d0d0"/><path d="M348.3,121.8 A4.2,4.2 0 0 1 352.1,118.6" fill="none" stroke="#3264c0" stroke-width="1.8" stroke-linecap="round"/><path d="M386.0,100.6 C376.1,102.6 371.1,113.5 374.1,119.5 C376.1,124.4 381.1,126.4 385.0,125.9 C379.1,121.4 378.1,109.5 386.0,100.6Z" fill="#f7f7f7" stroke="#000" stroke-width="1.4" stroke-linejoin="round"/><circle cx="382.0" cy="121.2" r="5.6" fill="#2f5282"/><circle cx="388.5" cy="117.8" r="6.0" fill="#2f5282"/><circle cx="395.6" cy="121.4" r="5.6" fill="#2f5282"/><rect x="382.0" y="121.2" width="13.6" height="4.7" fill="#2f5282"/><circle cx="382.0" cy="121.2" r="4.0" fill="#d0d0d0"/><circle cx="388.5" cy="117.8" r="4.4" fill="#d0d0d0"/><circle cx="395.6" cy="121.4" r="4.0" fill="#d0d0d0"/><rect x="382.0" y="121.2" width="13.6" height="3.3" fill="#d0d0d0"/><path d="M391.0,120.2 A4.8,4.8 0 0 1 395.2,116.6" fill="none" stroke="#2f5282" stroke-width="1.6" stroke-linecap="round"/><path d="M422.4,100.5 C412.6,102.5 407.7,113.2 410.6,119.1 C412.6,124.0 417.5,126.0 421.4,125.5 C415.5,121.1 414.6,109.3 422.4,100.5Z" fill="#f7f7f7" stroke="#000" stroke-width="1.4" stroke-linejoin="round"/><circle cx="419.6" cy="122.2" r="3.9" fill="#2f5282"/><circle cx="424.2" cy="119.9" r="4.3" fill="#2f5282"/><circle cx="429.2" cy="122.4" r="3.9" fill="#2f5282"/><rect x="419.6" y="122.2" width="9.6" height="3.3" fill="#2f5282"/><circle cx="419.6" cy="122.2" r="2.4" fill="#d0d0d0"/><circle cx="424.2" cy="119.9" r="2.8" fill="#d0d0d0"/><circle cx="429.2" cy="122.4" r="2.4" fill="#d0d0d0"/><rect x="419.6" y="122.2" width="9.6" height="2.0" fill="#d0d0d0"/><path d="M426.2,121.6 A3.2,3.2 0 0 1 429.0,119.2" fill="none" stroke="#2f5282" stroke-width="1.5" stroke-linecap="round"/><line x1="444.6" y1="110.2" x2="439.8" y2="108.9" stroke="#f2dc1c" stroke-width="2.1" stroke-linecap="round"/><line x1="448.3" y1="105.4" x2="445.8" y2="101.0" stroke="#f2dc1c" stroke-width="2.1" stroke-linecap="round"/><line x1="454.3" y1="104.6" x2="455.6" y2="99.7" stroke="#f2dc1c" stroke-width="2.1" stroke-linecap="round"/><line x1="459.1" y1="108.2" x2="463.4" y2="105.8" stroke="#f2dc1c" stroke-width="2.1" stroke-linecap="round"/><line x1="459.9" y1="114.2" x2="464.7" y2="115.5" stroke="#f2dc1c" stroke-width="2.1" stroke-linecap="round"/><line x1="456.2" y1="119.0" x2="458.7" y2="123.4" stroke="#f2dc1c" stroke-width="2.1" stroke-linecap="round"/><line x1="450.2" y1="119.8" x2="448.9" y2="124.7" stroke="#f2dc1c" stroke-width="2.1" stroke-linecap="round"/><line x1="445.4" y1="116.2" x2="441.1" y2="118.7" stroke="#f2dc1c" stroke-width="2.1" stroke-linecap="round"/><circle cx="452.2" cy="112.2" r="6.4" fill="#f6e418" stroke="#f0b030" stroke-width="0.7"/><circle cx="456.4" cy="120.7" r="4.2" fill="#3264c0"/><circle cx="461.2" cy="118.2" r="4.5" fill="#3264c0"/><circle cx="466.6" cy="120.9" r="4.2" fill="#3264c0"/><rect x="456.4" y="120.7" width="10.2" height="3.5" fill="#3264c0"/><circle cx="456.4" cy="120.7" r="2.7" fill="#ffffff"/><circle cx="461.2" cy="118.2" r="3.0" fill="#ffffff"/><circle cx="466.6" cy="120.9" r="2.7" fill="#ffffff"/><rect x="456.4" y="120.7" width="10.2" height="2.2" fill="#ffffff"/><path d="M463.3,120.0 A3.4,3.4 0 0 1 466.3,117.5" fill="none" stroke="#3264c0" stroke-width="1.5" stroke-linecap="round"/><line x1="484.8" y1="110.6" x2="480.0" y2="109.3" stroke="#f2dc1c" stroke-width="2.1" stroke-linecap="round"/><line x1="488.5" y1="105.8" x2="486.0" y2="101.4" stroke="#f2dc1c" stroke-width="2.1" stroke-linecap="round"/><line x1="494.5" y1="105.0" x2="495.8" y2="100.1" stroke="#f2dc1c" stroke-width="2.1" stroke-linecap="round"/><line x1="499.3" y1="108.6" x2="503.6" y2="106.1" stroke="#f2dc1c" stroke-width="2.1" stroke-linecap="round"/><line x1="500.1" y1="114.6" x2="504.9" y2="115.9" stroke="#f2dc1c" stroke-width="2.1" stroke-linecap="round"/><line x1="496.4" y1="119.4" x2="498.9" y2="123.8" stroke="#f2dc1c" stroke-width="2.1" stroke-linecap="round"/><line x1="490.4" y1="120.2" x2="489.1" y2="125.1" stroke="#f2dc1c" stroke-width="2.1" stroke-linecap="round"/><line x1="485.6" y1="116.5" x2="481.3" y2="119.0" stroke="#f2dc1c" stroke-width="2.1" stroke-linecap="round"/><circle cx="492.5" cy="112.6" r="6.4" fill="#f6e418" stroke="#f0b030" stroke-width="0.7"/><circle cx="478.1" cy="122.7" r="5.1" fill="#3264c0"/><circle cx="484.1" cy="119.6" r="5.5" fill="#3264c0"/><circle cx="490.6" cy="122.9" r="5.1" fill="#3264c0"/><rect x="478.1" y="122.7" width="12.5" height="4.3" fill="#3264c0"/><circle cx="478.1" cy="122.7" r="3.3" fill="#d0d0d0"/><circle cx="484.1" cy="119.6" r="3.7" fill="#d0d0d0"/><circle cx="490.6" cy="122.9" r="3.3" fill="#d0d0d0"/><rect x="478.1" y="122.7" width="12.5" height="2.7" fill="#d0d0d0"/><path d="M486.5,121.8 A4.2,4.2 0 0 1 490.3,118.6" fill="none" stroke="#3264c0" stroke-width="1.8" stroke-linecap="round"/><path d="M524.2,100.6 C514.3,102.6 509.3,113.5 512.3,119.5 C514.3,124.4 519.3,126.4 523.2,125.9 C517.3,121.4 516.3,109.5 524.2,100.6Z" fill="#f7f7f7" stroke="#000" stroke-width="1.4" stroke-linejoin="round"/><circle cx="520.2" cy="121.2" r="5.6" fill="#2f5282"/><circle cx="526.7" cy="117.8" r="6.0" fill="#2f5282"/><circle cx="533.8" cy="121.4" r="5.6" fill="#2f5282"/><rect x="520.2" y="121.2" width="13.6" height="4.7" fill="#2f5282"/><circle cx="520.2" cy="121.2" r="4.0" fill="#d0d0d0"/><circle cx="526.7" cy="117.8" r="4.4" fill="#d0d0d0"/><circle cx="533.8" cy="121.4" r="4.0" fill="#d0d0d0"/><rect x="520.2" y="121.2" width="13.6" height="3.3" fill="#d0d0d0"/><path d="M529.2,120.2 A4.8,4.8 0 0 1 533.4,116.6" fill="none" stroke="#2f5282" stroke-width="1.6" stroke-linecap="round"/><path d="M558.8,100.6 C548.8,102.6 543.9,113.5 546.9,119.5 C548.8,124.4 553.8,126.4 557.8,125.9 C551.8,121.4 550.8,109.5 558.8,100.6Z" fill="#f7f7f7" stroke="#000" stroke-width="1.4" stroke-linejoin="round"/><circle cx="554.8" cy="121.2" r="5.6" fill="#2f5282"/><circle cx="561.2" cy="117.8" r="6.0" fill="#2f5282"/><circle cx="568.4" cy="121.4" r="5.6" fill="#2f5282"/><rect x="554.8" y="121.2" width="13.6" height="4.7" fill="#2f5282"/><circle cx="554.8" cy="121.2" r="4.0" fill="#d0d0d0"/><circle cx="561.2" cy="117.8" r="4.4" fill="#d0d0d0"/><circle cx="568.4" cy="121.4" r="4.0" fill="#d0d0d0"/><rect x="554.8" y="121.2" width="13.6" height="3.3" fill="#d0d0d0"/><path d="M563.8,120.2 A4.8,4.8 0 0 1 568.0,116.6" fill="none" stroke="#2f5282" stroke-width="1.6" stroke-linecap="round"/><line x1="588.5" y1="110.6" x2="583.7" y2="109.3" stroke="#f2dc1c" stroke-width="2.1" stroke-linecap="round"/><line x1="592.2" y1="105.8" x2="589.7" y2="101.4" stroke="#f2dc1c" stroke-width="2.1" stroke-linecap="round"/><line x1="598.2" y1="105.0" x2="599.5" y2="100.1" stroke="#f2dc1c" stroke-width="2.1" stroke-linecap="round"/><line x1="603.0" y1="108.6" x2="607.3" y2="106.1" stroke="#f2dc1c" stroke-width="2.1" stroke-linecap="round"/><line x1="603.8" y1="114.6" x2="608.6" y2="115.9" stroke="#f2dc1c" stroke-width="2.1" stroke-linecap="round"/><line x1="600.1" y1="119.4" x2="602.6" y2="123.8" stroke="#f2dc1c" stroke-width="2.1" stroke-linecap="round"/><line x1="594.1" y1="120.2" x2="592.8" y2="125.1" stroke="#f2dc1c" stroke-width="2.1" stroke-linecap="round"/><line x1="589.3" y1="116.5" x2="585.0" y2="119.0" stroke="#f2dc1c" stroke-width="2.1" stroke-linecap="round"/><circle cx="596.1" cy="112.6" r="6.4" fill="#f6e418" stroke="#f0b030" stroke-width="0.7"/><circle cx="581.8" cy="122.7" r="5.1" fill="#3264c0"/><circle cx="587.7" cy="119.6" r="5.5" fill="#3264c0"/><circle cx="594.3" cy="122.9" r="5.1" fill="#3264c0"/><rect x="581.8" y="122.7" width="12.5" height="4.3" fill="#3264c0"/><circle cx="581.8" cy="122.7" r="3.3" fill="#d0d0d0"/><circle cx="587.7" cy="119.6" r="3.7" fill="#d0d0d0"/><circle cx="594.3" cy="122.9" r="3.3" fill="#d0d0d0"/><rect x="581.8" y="122.7" width="12.5" height="2.7" fill="#d0d0d0"/><path d="M590.2,121.8 A4.2,4.2 0 0 1 593.9,118.6" fill="none" stroke="#3264c0" stroke-width="1.8" stroke-linecap="round"/><line x1="623.0" y1="110.6" x2="618.2" y2="109.3" stroke="#f2dc1c" stroke-width="2.1" stroke-linecap="round"/><line x1="626.7" y1="105.8" x2="624.2" y2="101.4" stroke="#f2dc1c" stroke-width="2.1" stroke-linecap="round"/><line x1="632.7" y1="105.0" x2="634.0" y2="100.1" stroke="#f2dc1c" stroke-width="2.1" stroke-linecap="round"/><line x1="637.5" y1="108.6" x2="641.8" y2="106.1" stroke="#f2dc1c" stroke-width="2.1" stroke-linecap="round"/><line x1="638.3" y1="114.6" x2="643.1" y2="115.9" stroke="#f2dc1c" stroke-width="2.1" stroke-linecap="round"/><line x1="634.6" y1="119.4" x2="637.1" y2="123.8" stroke="#f2dc1c" stroke-width="2.1" stroke-linecap="round"/><line x1="628.6" y1="120.2" x2="627.3" y2="125.1" stroke="#f2dc1c" stroke-width="2.1" stroke-linecap="round"/><line x1="623.8" y1="116.5" x2="619.5" y2="119.0" stroke="#f2dc1c" stroke-width="2.1" stroke-linecap="round"/><circle cx="630.7" cy="112.6" r="6.4" fill="#f6e418" stroke="#f0b030" stroke-width="0.7"/><circle cx="616.3" cy="122.7" r="5.1" fill="#3264c0"/><circle cx="622.3" cy="119.6" r="5.5" fill="#3264c0"/><circle cx="628.8" cy="122.9" r="5.1" fill="#3264c0"/><rect x="616.3" y="122.7" width="12.5" height="4.3" fill="#3264c0"/><circle cx="616.3" cy="122.7" r="3.3" fill="#d0d0d0"/><circle cx="622.3" cy="119.6" r="3.7" fill="#d0d0d0"/><circle cx="628.8" cy="122.9" r="3.3" fill="#d0d0d0"/><rect x="616.3" y="122.7" width="12.5" height="2.7" fill="#d0d0d0"/><path d="M624.7,121.8 A4.2,4.2 0 0 1 628.5,118.6" fill="none" stroke="#3264c0" stroke-width="1.8" stroke-linecap="round"/><path d="M662.6,100.5 C652.7,102.5 647.7,113.3 650.7,119.3 C652.7,124.2 657.6,126.2 661.6,125.7 C655.6,121.3 654.7,109.4 662.6,100.5Z" fill="#f7f7f7" stroke="#000" stroke-width="1.4" stroke-linejoin="round"/><circle cx="659.0" cy="121.2" r="4.7" fill="#2f5282"/><circle cx="664.4" cy="118.4" r="5.1" fill="#2f5282"/><circle cx="670.5" cy="121.4" r="4.7" fill="#2f5282"/><rect x="659.0" y="121.2" width="11.5" height="4.0" fill="#2f5282"/><circle cx="659.0" cy="121.2" r="3.2" fill="#d0d0d0"/><circle cx="664.4" cy="118.4" r="3.6" fill="#d0d0d0"/><circle cx="670.5" cy="121.4" r="3.2" fill="#d0d0d0"/><rect x="659.0" y="121.2" width="11.5" height="2.7" fill="#d0d0d0"/><path d="M666.7,120.4 A4.0,4.0 0 0 1 670.1,117.4" fill="none" stroke="#2f5282" stroke-width="1.5" stroke-linecap="round"/><line x1="665.5" y1="128" x2="664.2" y2="133.6" stroke="#2f5282" stroke-width="1.8"/><line x1="670.0" y1="128" x2="668.7" y2="133.6" stroke="#2f5282" stroke-width="1.8"/><path d="M697.1,100.5 C687.2,102.5 682.3,113.3 685.3,119.3 C687.2,124.2 692.2,126.2 696.1,125.7 C690.2,121.3 689.2,109.4 697.1,100.5Z" fill="#f7f7f7" stroke="#000" stroke-width="1.4" stroke-linejoin="round"/><circle cx="693.5" cy="121.2" r="4.7" fill="#2f5282"/><circle cx="699.0" cy="118.4" r="5.1" fill="#2f5282"/><circle cx="705.0" cy="121.4" r="4.7" fill="#2f5282"/><rect x="693.5" y="121.2" width="11.5" height="4.0" fill="#2f5282"/><circle cx="693.5" cy="121.2" r="3.2" fill="#d0d0d0"/><circle cx="699.0" cy="118.4" r="3.6" fill="#d0d0d0"/><circle cx="705.0" cy="121.4" r="3.2" fill="#d0d0d0"/><rect x="693.5" y="121.2" width="11.5" height="2.7" fill="#d0d0d0"/><path d="M701.2,120.4 A4.0,4.0 0 0 1 704.7,117.4" fill="none" stroke="#2f5282" stroke-width="1.5" stroke-linecap="round"/><line x1="700.1" y1="128" x2="698.8" y2="133.6" stroke="#2f5282" stroke-width="1.8"/><line x1="704.6" y1="128" x2="703.3" y2="133.6" stroke="#2f5282" stroke-width="1.8"/><line x1="723.1" y1="109.3" x2="718.3" y2="108.1" stroke="#f2dc1c" stroke-width="2.1" stroke-linecap="round"/><line x1="727.2" y1="104.1" x2="724.7" y2="99.7" stroke="#f2dc1c" stroke-width="2.1" stroke-linecap="round"/><line x1="733.8" y1="103.2" x2="735.1" y2="98.4" stroke="#f2dc1c" stroke-width="2.1" stroke-linecap="round"/><line x1="739.1" y1="107.2" x2="743.4" y2="104.8" stroke="#f2dc1c" stroke-width="2.1" stroke-linecap="round"/><line x1="739.9" y1="113.9" x2="744.8" y2="115.1" stroke="#f2dc1c" stroke-width="2.1" stroke-linecap="round"/><line x1="735.9" y1="119.1" x2="738.4" y2="123.5" stroke="#f2dc1c" stroke-width="2.1" stroke-linecap="round"/><line x1="729.3" y1="120.0" x2="728.0" y2="124.8" stroke="#f2dc1c" stroke-width="2.1" stroke-linecap="round"/><line x1="724.0" y1="115.9" x2="719.7" y2="118.4" stroke="#f2dc1c" stroke-width="2.1" stroke-linecap="round"/><circle cx="731.5" cy="111.6" r="7.2" fill="#f6e418" stroke="#f0b030" stroke-width="0.7"/><rect x="713.5" y="116.1" width="36.7" height="2.6" fill="#5f7fbf" opacity="0.9"/><rect x="714.8" y="120.2" width="34.7" height="2.6" fill="#5f7fbf" opacity="0.9"/><rect x="716.9" y="124.1" width="31.2" height="2.6" fill="#5f7fbf" opacity="0.9"/><line x1="761.2" y1="110.6" x2="756.4" y2="109.3" stroke="#f2dc1c" stroke-width="2.1" stroke-linecap="round"/><line x1="764.9" y1="105.8" x2="762.4" y2="101.4" stroke="#f2dc1c" stroke-width="2.1" stroke-linecap="round"/><line x1="770.9" y1="105.0" x2="772.2" y2="100.1" stroke="#f2dc1c" stroke-width="2.1" stroke-linecap="round"/><line x1="775.7" y1="108.6" x2="780.0" y2="106.1" stroke="#f2dc1c" stroke-width="2.1" stroke-linecap="round"/><line x1="776.5" y1="114.6" x2="781.3" y2="115.9" stroke="#f2dc1c" stroke-width="2.1" stroke-linecap="round"/><line x1="772.8" y1="119.4" x2="775.3" y2="123.8" stroke="#f2dc1c" stroke-width="2.1" stroke-linecap="round"/><line x1="766.8" y1="120.2" x2="765.5" y2="125.1" stroke="#f2dc1c" stroke-width="2.1" stroke-linecap="round"/><line x1="762.0" y1="116.5" x2="757.7" y2="119.0" stroke="#f2dc1c" stroke-width="2.1" stroke-linecap="round"/><circle cx="768.9" cy="112.6" r="6.4" fill="#f6e418" stroke="#f0b030" stroke-width="0.7"/><circle cx="754.5" cy="122.7" r="5.1" fill="#3264c0"/><circle cx="760.5" cy="119.6" r="5.5" fill="#3264c0"/><circle cx="767.0" cy="122.9" r="5.1" fill="#3264c0"/><rect x="754.5" y="122.7" width="12.5" height="4.3" fill="#3264c0"/><circle cx="754.5" cy="122.7" r="3.3" fill="#d0d0d0"/><circle cx="760.5" cy="119.6" r="3.7" fill="#d0d0d0"/><circle cx="767.0" cy="122.9" r="3.3" fill="#d0d0d0"/><rect x="754.5" y="122.7" width="12.5" height="2.7" fill="#d0d0d0"/><path d="M762.9,121.8 A4.2,4.2 0 0 1 766.7,118.6" fill="none" stroke="#3264c0" stroke-width="1.8" stroke-linecap="round"/><path d="M802.5,100.5 C792.6,102.5 787.7,113.2 790.7,119.1 C792.6,124.0 797.6,126.0 801.5,125.5 C795.6,121.1 794.6,109.3 802.5,100.5Z" fill="#f7f7f7" stroke="#000" stroke-width="1.4" stroke-linejoin="round"/><circle cx="799.7" cy="122.2" r="3.9" fill="#2f5282"/><circle cx="804.2" cy="119.9" r="4.3" fill="#2f5282"/><circle cx="809.3" cy="122.4" r="3.9" fill="#2f5282"/><rect x="799.7" y="122.2" width="9.6" height="3.3" fill="#2f5282"/><circle cx="799.7" cy="122.2" r="2.4" fill="#d0d0d0"/><circle cx="804.2" cy="119.9" r="2.8" fill="#d0d0d0"/><circle cx="809.3" cy="122.4" r="2.4" fill="#d0d0d0"/><rect x="799.7" y="122.2" width="9.6" height="2.0" fill="#d0d0d0"/><path d="M806.2,121.6 A3.2,3.2 0 0 1 809.0,119.2" fill="none" stroke="#2f5282" stroke-width="1.5" stroke-linecap="round"/><path d="M835.2,100.6 C825.2,102.6 820.3,113.5 823.3,119.5 C825.2,124.4 830.2,126.4 834.2,125.9 C828.2,121.4 827.2,109.5 835.2,100.6Z" fill="#f7f7f7" stroke="#000" stroke-width="1.4" stroke-linejoin="round"/><circle cx="831.2" cy="121.2" r="5.6" fill="#2f5282"/><circle cx="837.6" cy="117.8" r="6.0" fill="#2f5282"/><circle cx="844.8" cy="121.4" r="5.6" fill="#2f5282"/><rect x="831.2" y="121.2" width="13.6" height="4.7" fill="#2f5282"/><circle cx="831.2" cy="121.2" r="4.0" fill="#d0d0d0"/><circle cx="837.6" cy="117.8" r="4.4" fill="#d0d0d0"/><circle cx="844.8" cy="121.4" r="4.0" fill="#d0d0d0"/><rect x="831.2" y="121.2" width="13.6" height="3.3" fill="#d0d0d0"/><path d="M840.2,120.2 A4.8,4.8 0 0 1 844.4,116.6" fill="none" stroke="#2f5282" stroke-width="1.6" stroke-linecap="round"/><line x1="859.2" y1="110.2" x2="854.4" y2="108.9" stroke="#f2dc1c" stroke-width="2.1" stroke-linecap="round"/><line x1="862.9" y1="105.4" x2="860.4" y2="101.0" stroke="#f2dc1c" stroke-width="2.1" stroke-linecap="round"/><line x1="868.9" y1="104.6" x2="870.2" y2="99.7" stroke="#f2dc1c" stroke-width="2.1" stroke-linecap="round"/><line x1="873.7" y1="108.2" x2="878.0" y2="105.8" stroke="#f2dc1c" stroke-width="2.1" stroke-linecap="round"/><line x1="874.5" y1="114.2" x2="879.3" y2="115.5" stroke="#f2dc1c" stroke-width="2.1" stroke-linecap="round"/><line x1="870.8" y1="119.0" x2="873.3" y2="123.4" stroke="#f2dc1c" stroke-width="2.1" stroke-linecap="round"/><line x1="864.8" y1="119.8" x2="863.5" y2="124.7" stroke="#f2dc1c" stroke-width="2.1" stroke-linecap="round"/><line x1="860.0" y1="116.2" x2="855.7" y2="118.7" stroke="#f2dc1c" stroke-width="2.1" stroke-linecap="round"/><circle cx="866.8" cy="112.2" r="6.4" fill="#f6e418" stroke="#f0b030" stroke-width="0.7"/><circle cx="871.0" cy="120.7" r="4.2" fill="#3264c0"/><circle cx="875.8" cy="118.2" r="4.5" fill="#3264c0"/><circle cx="881.2" cy="120.9" r="4.2" fill="#3264c0"/><rect x="871.0" y="120.7" width="10.2" height="3.5" fill="#3264c0"/><circle cx="871.0" cy="120.7" r="2.7" fill="#ffffff"/><circle cx="875.8" cy="118.2" r="3.0" fill="#ffffff"/><circle cx="881.2" cy="120.9" r="2.7" fill="#ffffff"/><rect x="871.0" y="120.7" width="10.2" height="2.2" fill="#ffffff"/><path d="M877.9,120.0 A3.4,3.4 0 0 1 880.9,117.5" fill="none" stroke="#3264c0" stroke-width="1.5" stroke-linecap="round"/><line x1="899.4" y1="110.6" x2="894.6" y2="109.3" stroke="#f2dc1c" stroke-width="2.1" stroke-linecap="round"/><line x1="903.1" y1="105.8" x2="900.6" y2="101.4" stroke="#f2dc1c" stroke-width="2.1" stroke-linecap="round"/><line x1="909.1" y1="105.0" x2="910.4" y2="100.1" stroke="#f2dc1c" stroke-width="2.1" stroke-linecap="round"/><line x1="913.9" y1="108.6" x2="918.2" y2="106.1" stroke="#f2dc1c" stroke-width="2.1" stroke-linecap="round"/><line x1="914.7" y1="114.6" x2="919.5" y2="115.9" stroke="#f2dc1c" stroke-width="2.1" stroke-linecap="round"/><line x1="911.0" y1="119.4" x2="913.5" y2="123.8" stroke="#f2dc1c" stroke-width="2.1" stroke-linecap="round"/><line x1="905.0" y1="120.2" x2="903.7" y2="125.1" stroke="#f2dc1c" stroke-width="2.1" stroke-linecap="round"/><line x1="900.2" y1="116.5" x2="895.9" y2="119.0" stroke="#f2dc1c" stroke-width="2.1" stroke-linecap="round"/><circle cx="907.1" cy="112.6" r="6.4" fill="#f6e418" stroke="#f0b030" stroke-width="0.7"/><circle cx="892.7" cy="122.7" r="5.1" fill="#3264c0"/><circle cx="898.7" cy="119.6" r="5.5" fill="#3264c0"/><circle cx="905.2" cy="122.9" r="5.1" fill="#3264c0"/><rect x="892.7" y="122.7" width="12.5" height="4.3" fill="#3264c0"/><circle cx="892.7" cy="122.7" r="3.3" fill="#d0d0d0"/><circle cx="898.7" cy="119.6" r="3.7" fill="#d0d0d0"/><circle cx="905.2" cy="122.9" r="3.3" fill="#d0d0d0"/><rect x="892.7" y="122.7" width="12.5" height="2.7" fill="#d0d0d0"/><path d="M901.1,121.8 A4.2,4.2 0 0 1 904.9,118.6" fill="none" stroke="#3264c0" stroke-width="1.8" stroke-linecap="round"/><path d="M938.8,100.6 C928.9,102.6 923.9,113.5 926.9,119.5 C928.9,124.4 933.9,126.4 937.8,125.9 C931.9,121.4 930.9,109.5 938.8,100.6Z" fill="#f7f7f7" stroke="#000" stroke-width="1.4" stroke-linejoin="round"/><circle cx="934.8" cy="121.2" r="5.6" fill="#2f5282"/><circle cx="941.3" cy="117.8" r="6.0" fill="#2f5282"/><circle cx="948.4" cy="121.4" r="5.6" fill="#2f5282"/><rect x="934.8" y="121.2" width="13.6" height="4.7" fill="#2f5282"/><circle cx="934.8" cy="121.2" r="4.0" fill="#d0d0d0"/><circle cx="941.3" cy="117.8" r="4.4" fill="#d0d0d0"/><circle cx="948.4" cy="121.4" r="4.0" fill="#d0d0d0"/><rect x="934.8" y="121.2" width="13.6" height="3.3" fill="#d0d0d0"/><path d="M943.8,120.2 A4.8,4.8 0 0 1 948.0,116.6" fill="none" stroke="#2f5282" stroke-width="1.6" stroke-linecap="round"/><path d="M973.4,100.6 C963.4,102.6 958.5,113.5 961.5,119.5 C963.4,124.4 968.4,126.4 972.4,125.9 C966.4,121.4 965.4,109.5 973.4,100.6Z" fill="#f7f7f7" stroke="#000" stroke-width="1.4" stroke-linejoin="round"/><circle cx="969.4" cy="121.2" r="5.6" fill="#2f5282"/><circle cx="975.8" cy="117.8" r="6.0" fill="#2f5282"/><circle cx="983.0" cy="121.4" r="5.6" fill="#2f5282"/><rect x="969.4" y="121.2" width="13.6" height="4.7" fill="#2f5282"/><circle cx="969.4" cy="121.2" r="4.0" fill="#d0d0d0"/><circle cx="975.8" cy="117.8" r="4.4" fill="#d0d0d0"/><circle cx="983.0" cy="121.4" r="4.0" fill="#d0d0d0"/><rect x="969.4" y="121.2" width="13.6" height="3.3" fill="#d0d0d0"/><path d="M978.4,120.2 A4.8,4.8 0 0 1 982.6,116.6" fill="none" stroke="#2f5282" stroke-width="1.6" stroke-linecap="round"/><line x1="1003.1" y1="110.6" x2="998.3" y2="109.3" stroke="#f2dc1c" stroke-width="2.1" stroke-linecap="round"/><line x1="1006.8" y1="105.8" x2="1004.3" y2="101.4" stroke="#f2dc1c" stroke-width="2.1" stroke-linecap="round"/><line x1="1012.8" y1="105.0" x2="1014.1" y2="100.1" stroke="#f2dc1c" stroke-width="2.1" stroke-linecap="round"/><line x1="1017.6" y1="108.6" x2="1021.9" y2="106.1" stroke="#f2dc1c" stroke-width="2.1" stroke-linecap="round"/><line x1="1018.4" y1="114.6" x2="1023.2" y2="115.9" stroke="#f2dc1c" stroke-width="2.1" stroke-linecap="round"/><line x1="1014.7" y1="119.4" x2="1017.2" y2="123.8" stroke="#f2dc1c" stroke-width="2.1" stroke-linecap="round"/><line x1="1008.7" y1="120.2" x2="1007.4" y2="125.1" stroke="#f2dc1c" stroke-width="2.1" stroke-linecap="round"/><line x1="1003.9" y1="116.5" x2="999.6" y2="119.0" stroke="#f2dc1c" stroke-width="2.1" stroke-linecap="round"/><circle cx="1010.7" cy="112.6" r="6.4" fill="#f6e418" stroke="#f0b030" stroke-width="0.7"/><circle cx="996.4" cy="122.7" r="5.1" fill="#3264c0"/><circle cx="1002.3" cy="119.6" r="5.5" fill="#3264c0"/><circle cx="1008.9" cy="122.9" r="5.1" fill="#3264c0"/><rect x="996.4" y="122.7" width="12.5" height="4.3" fill="#3264c0"/><circle cx="996.4" cy="122.7" r="3.3" fill="#d0d0d0"/><circle cx="1002.3" cy="119.6" r="3.7" fill="#d0d0d0"/><circle cx="1008.9" cy="122.9" r="3.3" fill="#d0d0d0"/><rect x="996.4" y="122.7" width="12.5" height="2.7" fill="#d0d0d0"/><path d="M1004.8,121.8 A4.2,4.2 0 0 1 1008.5,118.6" fill="none" stroke="#3264c0" stroke-width="1.8" stroke-linecap="round"/><line x1="1037.6" y1="110.6" x2="1032.8" y2="109.3" stroke="#f2dc1c" stroke-width="2.1" stroke-linecap="round"/><line x1="1041.3" y1="105.8" x2="1038.8" y2="101.4" stroke="#f2dc1c" stroke-width="2.1" stroke-linecap="round"/><line x1="1047.3" y1="105.0" x2="1048.6" y2="100.1" stroke="#f2dc1c" stroke-width="2.1" stroke-linecap="round"/><line x1="1052.1" y1="108.6" x2="1056.4" y2="106.1" stroke="#f2dc1c" stroke-width="2.1" stroke-linecap="round"/><line x1="1052.9" y1="114.6" x2="1057.7" y2="115.9" stroke="#f2dc1c" stroke-width="2.1" stroke-linecap="round"/><line x1="1049.2" y1="119.4" x2="1051.7" y2="123.8" stroke="#f2dc1c" stroke-width="2.1" stroke-linecap="round"/><line x1="1043.2" y1="120.2" x2="1041.9" y2="125.1" stroke="#f2dc1c" stroke-width="2.1" stroke-linecap="round"/><line x1="1038.4" y1="116.5" x2="1034.1" y2="119.0" stroke="#f2dc1c" stroke-width="2.1" stroke-linecap="round"/><circle cx="1045.3" cy="112.6" r="6.4" fill="#f6e418" stroke="#f0b030" stroke-width="0.7"/><circle cx="1030.9" cy="122.7" r="5.1" fill="#3264c0"/><circle cx="1036.9" cy="119.6" r="5.5" fill="#3264c0"/><circle cx="1043.4" cy="122.9" r="5.1" fill="#3264c0"/><rect x="1030.9" y="122.7" width="12.5" height="4.3" fill="#3264c0"/><circle cx="1030.9" cy="122.7" r="3.3" fill="#d0d0d0"/><circle cx="1036.9" cy="119.6" r="3.7" fill="#d0d0d0"/><circle cx="1043.4" cy="122.9" r="3.3" fill="#d0d0d0"/><rect x="1030.9" y="122.7" width="12.5" height="2.7" fill="#d0d0d0"/><path d="M1039.3,121.8 A4.2,4.2 0 0 1 1043.1,118.6" fill="none" stroke="#3264c0" stroke-width="1.8" stroke-linecap="round"/><path d="M1077.0,100.6 C1067.1,102.6 1062.1,113.5 1065.1,119.5 C1067.1,124.4 1072.1,126.4 1076.0,125.9 C1070.1,121.4 1069.1,109.5 1077.0,100.6Z" fill="#f7f7f7" stroke="#000" stroke-width="1.4" stroke-linejoin="round"/><circle cx="1073.0" cy="121.2" r="5.6" fill="#2f5282"/><circle cx="1079.5" cy="117.8" r="6.0" fill="#2f5282"/><circle cx="1086.6" cy="121.4" r="5.6" fill="#2f5282"/><rect x="1073.0" y="121.2" width="13.6" height="4.7" fill="#2f5282"/><circle cx="1073.0" cy="121.2" r="4.0" fill="#d0d0d0"/><circle cx="1079.5" cy="117.8" r="4.4" fill="#d0d0d0"/><circle cx="1086.6" cy="121.4" r="4.0" fill="#d0d0d0"/><rect x="1073.0" y="121.2" width="13.6" height="3.3" fill="#d0d0d0"/><path d="M1082.0,120.2 A4.8,4.8 0 0 1 1086.2,116.6" fill="none" stroke="#2f5282" stroke-width="1.6" stroke-linecap="round"/></g>
<g><path d="M138.1,157.7 L115.7,148.1 M118.3,149.2 L120.0,144.2" stroke="#000" stroke-width="2" fill="none" stroke-linecap="round"/><path d="M156.2,150.9 L132.1,154.9 M134.9,154.4 L133.7,149.4" stroke="#000" stroke-width="2" fill="none" stroke-linecap="round"/><path d="M173.6,153.9 L149.3,151.9 M152.1,152.1 L152.1,146.9" stroke="#000" stroke-width="2" fill="none" stroke-linecap="round"/><path d="M178.6,165.1 L178.8,140.7 M178.8,143.5 L184.0,143.1" stroke="#000" stroke-width="2" fill="none" stroke-linecap="round"/><path d="M192.3,164.5 L199.7,141.3 M198.8,143.9 L203.9,145.1" stroke="#000" stroke-width="2" fill="none" stroke-linecap="round"/><path d="M222.1,161.3 L204.4,144.5 M206.4,146.4 L209.7,142.4" stroke="#000" stroke-width="2" fill="none" stroke-linecap="round"/><path d="M239.6,161.1 L221.5,144.7 M223.6,146.6 L226.8,142.5" stroke="#000" stroke-width="2" fill="none" stroke-linecap="round"/><path d="M253.3,163.8 L242.4,142.0 M243.6,144.5 L248.1,141.8" stroke="#000" stroke-width="2" fill="none" stroke-linecap="round"/><circle cx="265.1" cy="152.9" r="3.6" fill="none" stroke="#000" stroke-width="1.55"/><path d="M294.1,156.2 L270.6,149.6 M273.3,150.3 L274.4,145.2" stroke="#000" stroke-width="2" fill="none" stroke-linecap="round"/><path d="M307.5,162.2 L291.8,143.6 M293.6,145.7 L297.3,142.1" stroke="#000" stroke-width="2" fill="none" stroke-linecap="round"/><path d="M324.7,162.3 L309.1,143.5 M310.9,145.7 L314.6,142.0" stroke="#000" stroke-width="2" fill="none" stroke-linecap="round"/><path d="M330.1,164.4 L338.3,141.4 M337.4,144.1 L342.4,145.4" stroke="#000" stroke-width="2" fill="none" stroke-linecap="round"/><path d="M351.7,165.1 L351.3,140.7 M351.3,143.5 L356.5,143.0" stroke="#000" stroke-width="2" fill="none" stroke-linecap="round"/><path d="M366.5,164.9 L371.0,140.9 M370.5,143.7 L375.7,144.2" stroke="#000" stroke-width="2" fill="none" stroke-linecap="round"/><path d="M387.5,165.0 L384.5,140.8 M384.9,143.6 L390.0,142.5" stroke="#000" stroke-width="2" fill="none" stroke-linecap="round"/><path d="M407.3,164.4 L399.3,141.4 M400.2,144.0 L405.0,141.9" stroke="#000" stroke-width="2" fill="none" stroke-linecap="round"/><path d="M424.5,164.5 L416.7,141.3 M417.6,144.0 L422.4,141.9" stroke="#000" stroke-width="2" fill="none" stroke-linecap="round"/><path d="M442.5,164.2 L433.2,141.6 M434.3,144.2 L438.9,141.9" stroke="#000" stroke-width="2" fill="none" stroke-linecap="round"/><path d="M459.8,164.2 L450.5,141.6 M451.5,144.2 L456.2,141.9" stroke="#000" stroke-width="2" fill="none" stroke-linecap="round"/><path d="M468.0,164.3 L476.8,141.5 M475.8,144.1 L480.8,145.6" stroke="#000" stroke-width="2" fill="none" stroke-linecap="round"/><path d="M487.3,164.9 L492.0,140.9 M491.5,143.7 L496.7,144.3" stroke="#000" stroke-width="2" fill="none" stroke-linecap="round"/><circle cx="506.9" cy="152.9" r="3.6" fill="none" stroke="#000" stroke-width="1.55"/><circle cx="524.2" cy="152.9" r="3.6" fill="none" stroke="#000" stroke-width="1.55"/><circle cx="541.5" cy="152.9" r="3.6" fill="none" stroke="#000" stroke-width="1.55"/><circle cx="558.8" cy="152.9" r="3.6" fill="none" stroke="#000" stroke-width="1.55"/><circle cx="576.0" cy="152.9" r="3.6" fill="none" stroke="#000" stroke-width="1.55"/><circle cx="593.3" cy="152.9" r="3.6" fill="none" stroke="#000" stroke-width="1.55"/><circle cx="610.6" cy="152.9" r="3.6" fill="none" stroke="#000" stroke-width="1.55"/><circle cx="627.9" cy="152.9" r="3.6" fill="none" stroke="#000" stroke-width="1.55"/><circle cx="645.1" cy="152.9" r="3.6" fill="none" stroke="#000" stroke-width="1.55"/><circle cx="662.4" cy="152.9" r="3.6" fill="none" stroke="#000" stroke-width="1.55"/><circle cx="679.7" cy="152.9" r="3.6" fill="none" stroke="#000" stroke-width="1.55"/><circle cx="697.0" cy="152.9" r="3.6" fill="none" stroke="#000" stroke-width="1.55"/><circle cx="714.2" cy="152.9" r="3.6" fill="none" stroke="#000" stroke-width="1.55"/><circle cx="731.5" cy="152.9" r="3.6" fill="none" stroke="#000" stroke-width="1.55"/><circle cx="748.8" cy="152.9" r="3.6" fill="none" stroke="#000" stroke-width="1.55"/><circle cx="766.1" cy="152.9" r="3.6" fill="none" stroke="#000" stroke-width="1.55"/><circle cx="783.3" cy="152.9" r="3.6" fill="none" stroke="#000" stroke-width="1.55"/><circle cx="800.6" cy="152.9" r="3.6" fill="none" stroke="#000" stroke-width="1.55"/><path d="M811.2,163.1 L824.6,142.7 M823.1,145.1 L827.7,147.6" stroke="#000" stroke-width="2" fill="none" stroke-linecap="round"/><circle cx="835.2" cy="152.9" r="3.6" fill="none" stroke="#000" stroke-width="1.55"/><circle cx="852.4" cy="152.9" r="3.6" fill="none" stroke="#000" stroke-width="1.55"/><circle cx="869.7" cy="152.9" r="3.6" fill="none" stroke="#000" stroke-width="1.55"/><path d="M898.0,147.6 L876.0,158.2 M878.5,157.0 L875.9,152.4" stroke="#000" stroke-width="2" fill="none" stroke-linecap="round"/><path d="M916.3,150.8 L892.3,155.0 M895.0,154.5 L893.7,149.4" stroke="#000" stroke-width="2" fill="none" stroke-linecap="round"/><circle cx="921.5" cy="152.9" r="3.6" fill="none" stroke="#000" stroke-width="1.55"/><circle cx="938.8" cy="152.9" r="3.6" fill="none" stroke="#000" stroke-width="1.55"/><circle cx="956.1" cy="152.9" r="3.6" fill="none" stroke="#000" stroke-width="1.55"/><circle cx="973.4" cy="152.9" r="3.6" fill="none" stroke="#000" stroke-width="1.55"/><circle cx="990.6" cy="152.9" r="3.6" fill="none" stroke="#000" stroke-width="1.55"/><circle cx="1007.9" cy="152.9" r="3.6" fill="none" stroke="#000" stroke-width="1.55"/><path d="M1017.3,162.2 L1033.1,143.6 M1031.3,145.7 L1035.5,148.8" stroke="#000" stroke-width="2" fill="none" stroke-linecap="round"/><path d="M1033.4,161.1 L1051.5,144.7 M1049.4,146.6 L1053.2,150.2" stroke="#000" stroke-width="2" fill="none" stroke-linecap="round"/><path d="M1050.6,161.0 L1068.9,144.8 M1066.8,146.7 L1070.5,150.3" stroke="#000" stroke-width="2" fill="none" stroke-linecap="round"/><circle cx="1077.0" cy="152.9" r="3.6" fill="none" stroke="#000" stroke-width="1.55"/><path d="M1087.7,163.2 L1100.9,142.6 M1099.4,145.0 L1104.0,147.5" stroke="#000" stroke-width="2" fill="none" stroke-linecap="round"/></g>
<text x="195.9" y="68.4" font-size="16.7" fill="#000" text-anchor="middle" textLength="98.6" lengthAdjust="spacingAndGlyphs" stroke="#000" stroke-width="0.12">ponedeljek</text>
<text x="195.9" y="89.7" font-size="16.7" fill="#000" text-anchor="middle" textLength="50.0" lengthAdjust="spacingAndGlyphs" stroke="#000" stroke-width="0.12">06.10</text>
<text x="334.1" y="68.4" font-size="16.7" fill="#000" text-anchor="middle" textLength="46.5" lengthAdjust="spacingAndGlyphs" stroke="#000" stroke-width="0.12">torek</text>
<text x="334.1" y="89.7" font-size="16.7" fill="#000" text-anchor="middle" textLength="50.0" lengthAdjust="spacingAndGlyphs" stroke="#000" stroke-width="0.12">07.10</text>
<text x="472.3" y="68.4" font-size="16.7" fill="#000" text-anchor="middle" textLength="49.9" lengthAdjust="spacingAndGlyphs" stroke="#000" stroke-width="0.12">sreda</text>
<text x="472.3" y="89.7" font-size="16.7" fill="#000" text-anchor="middle" textLength="50.0" lengthAdjust="spacingAndGlyphs" stroke="#000" stroke-width="0.12">08.10</text>
<text x="610.5" y="68.4" font-size="16.7" fill="#000" text-anchor="middle" textLength="64.7" lengthAdjust="spacingAndGlyphs" stroke="#000" stroke-width="0.12">četrtek</text>
<text x="610.5" y="89.7" font-size="16.7" fill="#000" text-anchor="middle" textLength="50.0" lengthAdjust="spacingAndGlyphs" stroke="#000" stroke-width="0.12">09.10</text>
<text x="748.7" y="68.4" font-size="16.7" fill="#000" text-anchor="middle" textLength="50.8" lengthAdjust="spacingAndGlyphs" stroke="#000" stroke-width="0.12">petek</text>
<text x="748.7" y="89.7" font-size="16.7" fill="#000" text-anchor="middle" textLength="50.0" lengthAdjust="spacingAndGlyphs" stroke="#000" stroke-width="0.12">10.10</text>
<text x="886.9" y="68.4" font-size="16.7" fill="#d20000" text-anchor="middle" textLength="60.4" lengthAdjust="spacingAndGlyphs" stroke="#d20000" stroke-width="0.12">sobota</text>
<text x="886.9" y="89.7" font-size="16.7" fill="#d20000" text-anchor="middle" textLength="50.0" lengthAdjust="spacingAndGlyphs" stroke="#d20000" stroke-width="0.12">11.10</text>
<text x="1025.1" y="68.4" font-size="16.7" fill="#d20000" text-anchor="middle" textLength="66.0" lengthAdjust="spacingAndGlyphs" stroke="#d20000" stroke-width="0.12">nedelja</text>
<text x="1025.1" y="89.7" font-size="16.7" fill="#d20000" text-anchor="middle" textLength="50.0" lengthAdjust="spacingAndGlyphs" stroke="#d20000" stroke-width="0.12">12.10</text>
<text x="161.1" y="376.5" font-size="16.7" fill="#000" text-anchor="middle" textLength="21.0" lengthAdjust="spacingAndGlyphs" stroke="#000" stroke-width="0.12">06</text>
<text x="195.6" y="376.5" font-size="16.7" fill="#000" text-anchor="middle" textLength="21.0" lengthAdjust="spacingAndGlyphs" stroke="#000" stroke-width="0.12">12</text>
<text x="230.1" y="376.5" font-size="16.7" fill="#000" text-anchor="middle" textLength="21.0" lengthAdjust="spacingAndGlyphs" stroke="#000" stroke-width="0.12">18</text>
<text x="299.2" y="376.5" font-size="16.7" fill="#000" text-anchor="middle" textLength="21.0" lengthAdjust="spacingAndGlyphs" stroke="#000" stroke-width="0.12">06</text>
<text x="333.8" y="376.5" font-size="16.7" fill="#000" text-anchor="middle" textLength="21.0" lengthAdjust="spacingAndGlyphs" stroke="#000" stroke-width="0.12">12</text>
<text x="368.3" y="376.5" font-size="16.7" fill="#000" text-anchor="middle" textLength="21.0" lengthAdjust="spacingAndGlyphs" stroke="#000" stroke-width="0.12">18</text>
<text x="265.2" y="376.5" font-size="16.7" fill="#000" text-anchor="middle" textLength="25.9" lengthAdjust="spacingAndGlyphs" stroke="#000" stroke-width="0.12">tor</text>
<text x="437.4" y="376.5" font-size="16.7" fill="#000" text-anchor="middle" textLength="21.0" lengthAdjust="spacingAndGlyphs" stroke="#000" stroke-width="0.12">06</text>
<text x="472.0" y="376.5" font-size="16.7" fill="#000" text-anchor="middle" textLength="21.0" lengthAdjust="spacingAndGlyphs" stroke="#000" stroke-width="0.12">12</text>
<text x="506.5" y="376.5" font-size="16.7" fill="#000" text-anchor="middle" textLength="21.0" lengthAdjust="spacingAndGlyphs" stroke="#000" stroke-width="0.12">18</text>
<text x="403.4" y="376.5" font-size="16.7" fill="#000" text-anchor="middle" textLength="28.2" lengthAdjust="spacingAndGlyphs" stroke="#000" stroke-width="0.12">sre</text>
<text x="575.6" y="376.5" font-size="16.7" fill="#000" text-anchor="middle" textLength="21.0" lengthAdjust="spacingAndGlyphs" stroke="#000" stroke-width="0.12">06</text>
<text x="610.2" y="376.5" font-size="16.7" fill="#000" text-anchor="middle" textLength="21.0" lengthAdjust="spacingAndGlyphs" stroke="#000" stroke-width="0.12">12</text>
<text x="644.8" y="376.5" font-size="16.7" fill="#000" text-anchor="middle" textLength="21.0" lengthAdjust="spacingAndGlyphs" stroke="#000" stroke-width="0.12">18</text>
<text x="541.6" y="376.5" font-size="16.7" fill="#000" text-anchor="middle" textLength="28.4" lengthAdjust="spacingAndGlyphs" stroke="#000" stroke-width="0.12">čet</text>
<text x="713.8" y="376.5" font-size="16.7" fill="#000" text-anchor="middle" textLength="21.0" lengthAdjust="spacingAndGlyphs" stroke="#000" stroke-width="0.12">06</text>
<text x="748.4" y="376.5" font-size="16.7" fill="#000" text-anchor="middle" textLength="21.0" lengthAdjust="spacingAndGlyphs" stroke="#000" stroke-width="0.12">12</text>
<text x="782.9" y="376.5" font-size="16.7" fill="#000" text-anchor="middle" textLength="21.0" lengthAdjust="spacingAndGlyphs" stroke="#000" stroke-width="0.12">18</text>
<text x="679.8" y="376.5" font-size="16.7" fill="#000" text-anchor="middle" textLength="29.9" lengthAdjust="spacingAndGlyphs" stroke="#000" stroke-width="0.12">pet</text>
<text x="852.0" y="376.5" font-size="16.7" fill="#000" text-anchor="middle" textLength="21.0" lengthAdjust="spacingAndGlyphs" stroke="#000" stroke-width="0.12">06</text>
<text x="886.6" y="376.5" font-size="16.7" fill="#000" text-anchor="middle" textLength="21.0" lengthAdjust="spacingAndGlyphs" stroke="#000" stroke-width="0.12">12</text>
<text x="921.1" y="376.5" font-size="16.7" fill="#000" text-anchor="middle" textLength="21.0" lengthAdjust="spacingAndGlyphs" stroke="#000" stroke-width="0.12">18</text>
<text x="818.0" y="376.5" font-size="16.7" fill="#000" text-anchor="middle" textLength="32.1" lengthAdjust="spacingAndGlyphs" stroke="#000" stroke-width="0.12">sob</text>
<text x="990.2" y="376.5" font-size="16.7" fill="#000" text-anchor="middle" textLength="21.0" lengthAdjust="spacingAndGlyphs" stroke="#000" stroke-width="0.12">06</text>
<text x="1024.8" y="376.5" font-size="16.7" fill="#000" text-anchor="middle" textLength="21.0" lengthAdjust="spacingAndGlyphs" stroke="#000" stroke-width="0.12">12</text>
<text x="1059.3" y="376.5" font-size="16.7" fill="#000" text-anchor="middle" textLength="21.0" lengthAdjust="spacingAndGlyphs" stroke="#000" stroke-width="0.12">18</text>
<text x="956.2" y="376.5" font-size="16.7" fill="#000" text-anchor="middle" textLength="34.2" lengthAdjust="spacingAndGlyphs" stroke="#000" stroke-width="0.12">ned</text>
<text x="122.5" y="365.4" font-size="16.7" fill="#000" text-anchor="end" textLength="10.5" lengthAdjust="spacingAndGlyphs" stroke="#000" stroke-width="0.12">0</text>
<text x="122.5" y="328.0" font-size="16.7" fill="#000" text-anchor="end" textLength="10.5" lengthAdjust="spacingAndGlyphs" stroke="#000" stroke-width="0.12">1</text>
<text x="122.5" y="290.7" font-size="16.7" fill="#000" text-anchor="end" textLength="10.5" lengthAdjust="spacingAndGlyphs" stroke="#000" stroke-width="0.12">2</text>
<text x="122.5" y="253.3" font-size="16.7" fill="#000" text-anchor="end" textLength="10.5" lengthAdjust="spacingAndGlyphs" stroke="#000" stroke-width="0.12">3</text>
<text x="122.5" y="216.0" font-size="16.7" fill="#000" text-anchor="end" textLength="10.5" lengthAdjust="spacingAndGlyphs" stroke="#000" stroke-width="0.12">4</text>
<text x="122.5" y="178.6" font-size="16.7" fill="#000" text-anchor="end" textLength="10.5" lengthAdjust="spacingAndGlyphs" stroke="#000" stroke-width="0.12">5</text>
<text x="46.4" y="365.4" font-size="16.9" fill="#ff0000" text-anchor="start" textLength="16.6" lengthAdjust="spacingAndGlyphs">-1</text>
<text x="46.4" y="328.0" font-size="16.9" fill="#ff0000" text-anchor="start" textLength="10.6" lengthAdjust="spacingAndGlyphs">4</text>
<text x="46.4" y="290.7" font-size="16.9" fill="#ff0000" text-anchor="start" textLength="10.6" lengthAdjust="spacingAndGlyphs">9</text>
<text x="46.4" y="253.3" font-size="16.9" fill="#ff0000" text-anchor="start" textLength="21.1" lengthAdjust="spacingAndGlyphs">15</text>
<text x="46.4" y="216.0" font-size="16.9" fill="#ff0000" text-anchor="start" textLength="21.1" lengthAdjust="spacingAndGlyphs">20</text>
<text x="46.4" y="178.6" font-size="16.9" fill="#ff0000" text-anchor="start" textLength="21.1" lengthAdjust="spacingAndGlyphs">25</text>
<g transform="translate(100.6,263.5) rotate(-90)"><text x="0.0" y="0.0" font-size="19.5" fill="#000" text-anchor="middle" textLength="165.0" lengthAdjust="spacingAndGlyphs" stroke="#000" stroke-width="0.12">Padavine (mm/h)</text></g>
<g transform="translate(35.5,267.1) rotate(-90)"><text x="0.0" y="0.0" font-size="20.5" fill="#ff0000" text-anchor="middle" textLength="164.5" lengthAdjust="spacingAndGlyphs">Temperatura (°C)</text></g>
<text x="1099.2" y="365.4" font-size="16.7" fill="#000" text-anchor="start" textLength="10.9" lengthAdjust="spacingAndGlyphs" stroke="#000" stroke-width="0.12">0</text>
<text x="1099.2" y="328.0" font-size="16.7" fill="#000" text-anchor="start" textLength="27.3" lengthAdjust="spacingAndGlyphs" stroke="#000" stroke-width="0.12">1.5</text>
<text x="1099.2" y="290.7" font-size="16.7" fill="#000" text-anchor="start" textLength="27.3" lengthAdjust="spacingAndGlyphs" stroke="#000" stroke-width="0.12">3.5</text>
<text x="1099.2" y="253.3" font-size="16.7" fill="#000" text-anchor="start" textLength="27.3" lengthAdjust="spacingAndGlyphs" stroke="#000" stroke-width="0.12">6.0</text>
<text x="1099.2" y="216.0" font-size="16.7" fill="#000" text-anchor="start" textLength="27.3" lengthAdjust="spacingAndGlyphs" stroke="#000" stroke-width="0.12">9.0</text>
<text x="1099.2" y="178.6" font-size="16.7" fill="#000" text-anchor="start" textLength="21.9" lengthAdjust="spacingAndGlyphs" stroke="#000" stroke-width="0.12">14</text>
<g transform="translate(1145.3,254.4) rotate(-90)"><text x="0.0" y="0.0" font-size="19.5" fill="#000" text-anchor="middle" textLength="189.0" lengthAdjust="spacingAndGlyphs" stroke="#000" stroke-width="0.12">Višina oblakov (km)</text></g>
<rect x="126.9" y="390.1" width="32" height="10.7" fill="#0050ff"/>
<rect x="165.2" y="386" width="104.4" height="19.6" fill="#fff"/>
<text x="169.0" y="401.8" font-size="18.8" fill="#000" text-anchor="start" textLength="34.5" lengthAdjust="spacingAndGlyphs" stroke="#000" stroke-width="0.12">Dež</text>
<rect x="278.1" y="389.9" width="31.9" height="10.7" fill="#10d8c8"/>
<rect x="310" y="385.7" width="110" height="19.5" fill="#fff"/>
<text x="319.2" y="401.8" font-size="18.8" fill="#000" text-anchor="start" textLength="115.0" lengthAdjust="spacingAndGlyphs" stroke="#000" stroke-width="0.12">Možnost ploh</text>
<text x="500.0" y="401.4" font-size="15.5" fill="#0000ff" text-anchor="start" textLength="170.5" lengthAdjust="spacingAndGlyphs">© vreme.us &amp; vreme.pro</text>
<rect x="759.7" y="386" width="179.9" height="19.6" fill="#fff"/>
<text x="760.0" y="401.8" font-size="18.8" fill="#000" text-anchor="start" textLength="174.3" lengthAdjust="spacingAndGlyphs" stroke="#000" stroke-width="0.12">Gostota oblakov (%)</text>
<rect x="949.5" y="385.2" width="29.1" height="13.2" fill="#d0d0d0"/>
<rect x="978.5" y="385.2" width="29.1" height="13.2" fill="#b0b0b0"/>
<rect x="1007.5" y="385.2" width="29.1" height="13.2" fill="#919191"/>
<rect x="1036.6" y="385.2" width="29.1" height="13.2" fill="#727272"/>
<rect x="1065.6" y="385.2" width="29.1" height="13.2" fill="#575757"/>
<rect x="949.5" y="385.2" width="145.1" height="13.2" fill="none" stroke="#111" stroke-width="1"/>
<text x="949.8" y="414.6" font-size="14.7" fill="#000" text-anchor="middle" textLength="19.3" lengthAdjust="spacingAndGlyphs" stroke="#000" stroke-width="0.12">10</text>
<text x="977.8" y="414.6" font-size="14.7" fill="#000" text-anchor="middle" textLength="19.3" lengthAdjust="spacingAndGlyphs" stroke="#000" stroke-width="0.12">25</text>
<text x="1006.7" y="414.6" font-size="14.7" fill="#000" text-anchor="middle" textLength="19.3" lengthAdjust="spacingAndGlyphs" stroke="#000" stroke-width="0.12">50</text>
<text x="1035.6" y="414.6" font-size="14.7" fill="#000" text-anchor="middle" textLength="19.3" lengthAdjust="spacingAndGlyphs" stroke="#000" stroke-width="0.12">75</text>
<text x="1064.4" y="414.6" font-size="14.7" fill="#000" text-anchor="middle" textLength="19.3" lengthAdjust="spacingAndGlyphs" stroke="#000" stroke-width="0.12">90</text>
<text x="1095.0" y="414.6" font-size="14.7" fill="#000" text-anchor="middle" textLength="29.0" lengthAdjust="spacingAndGlyphs" stroke="#000" stroke-width="0.12">100</text>
<text x="10.4" y="21.6" font-size="16" fill="#0000ff" text-anchor="start" textLength="204.0" lengthAdjust="spacingAndGlyphs">(kraj lahko izberete v meniju)</text>
<text x="400.4" y="36.7" font-size="23" fill="#0000ff" text-anchor="start" textLength="132.0" lengthAdjust="spacingAndGlyphs">Zagreb 7 dni</text>
<text x="861.0" y="21.5" font-size="16" fill="#0000ff" text-anchor="start" textLength="281.8" lengthAdjust="spacingAndGlyphs">Zadnja posodobitev: 06.10.2025 - 06:09</text>
</svg></div></body></html>
